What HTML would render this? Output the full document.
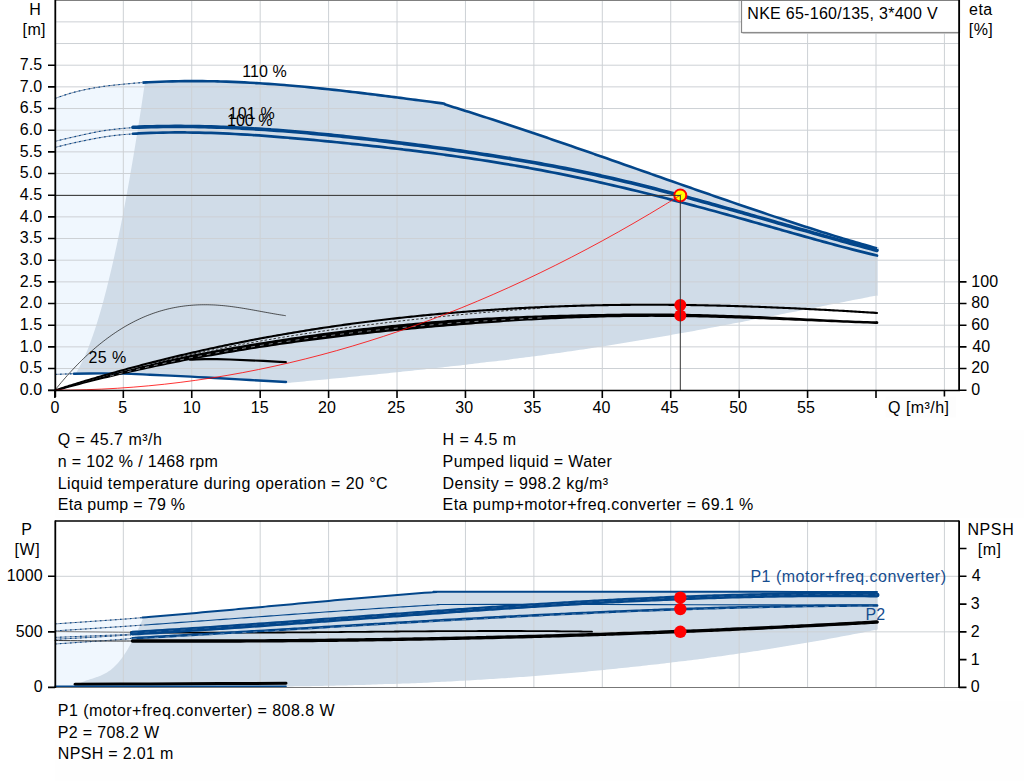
<!DOCTYPE html>
<html><head><meta charset="utf-8"><style>
html,body{margin:0;padding:0;background:#fff;width:1024px;height:781px;overflow:hidden;}
text{font-family:"Liberation Sans",sans-serif;}
</style></head><body>
<svg width="1024" height="781" viewBox="0 0 1024 781" style="position:absolute;left:0;top:0">
<rect x="0" y="0" width="1024" height="781" fill="#fff"/>
<rect x="55.5" y="430.5" width="968.5" height="87" fill="#fefefe"/>
<rect x="55.5" y="701" width="968.5" height="80" fill="#fefefe"/>
<path d="M55,98.4L55.00,98.40C57.50,97.57 64.73,94.92 70.00,93.40C75.27,91.88 80.77,90.50 86.60,89.30C92.43,88.10 98.90,87.05 105.00,86.20C111.10,85.35 116.95,84.82 123.20,84.20C129.45,83.58 139.28,82.78 142.50,82.50L150,82.2 L150,373.9 L55,374.4 Z" fill="#f0f7fe"/>
<path d="M144.96,82.40L144.96,82.40C145.55,82.38 146.91,82.35 148.50,82.28C150.09,82.20 152.50,82.07 154.50,81.97C156.50,81.88 158.50,81.79 160.50,81.72C162.50,81.64 164.50,81.57 166.50,81.51C168.50,81.44 170.50,81.39 172.50,81.34C174.50,81.29 176.50,81.25 178.50,81.21C180.50,81.18 182.50,81.15 184.50,81.13C186.50,81.11 188.50,81.10 190.50,81.09C192.50,81.09 194.50,81.09 196.50,81.09C198.50,81.10 200.50,81.11 202.50,81.13C204.50,81.15 206.50,81.18 208.50,81.21C210.50,81.24 212.50,81.28 214.50,81.32C216.50,81.37 218.50,81.42 220.50,81.47C222.50,81.53 224.50,81.59 226.50,81.66C228.50,81.73 230.50,81.80 232.50,81.88C234.50,81.96 236.50,82.04 238.50,82.13C240.50,82.22 242.50,82.32 244.50,82.42C246.50,82.52 248.50,82.63 250.50,82.74C252.50,82.85 254.50,82.96 256.50,83.08C258.50,83.21 260.50,83.33 262.50,83.46C264.50,83.59 266.50,83.73 268.50,83.87C270.50,84.01 272.50,84.15 274.50,84.30C276.50,84.45 278.50,84.60 280.50,84.76C282.50,84.91 284.50,85.08 286.50,85.24C288.50,85.41 290.50,85.58 292.50,85.75C294.50,85.92 296.50,86.10 298.50,86.28C300.50,86.46 302.50,86.65 304.50,86.83C306.50,87.02 308.50,87.21 310.50,87.41C312.50,87.60 314.50,87.80 316.50,88.00C318.50,88.20 320.50,88.41 322.50,88.62C324.50,88.83 326.50,89.04 328.50,89.25C330.50,89.46 332.50,89.68 334.50,89.90C336.50,90.12 338.50,90.34 340.50,90.57C342.50,90.79 344.50,91.02 346.50,91.25C348.50,91.48 350.50,91.71 352.50,91.94C354.50,92.18 356.50,92.41 358.50,92.65C360.50,92.89 362.50,93.13 364.50,93.37C366.50,93.62 368.50,93.86 370.50,94.11C372.50,94.35 374.50,94.60 376.50,94.85C378.50,95.10 380.50,95.35 382.50,95.60C384.50,95.85 386.50,96.11 388.50,96.36C390.50,96.62 392.50,96.87 394.50,97.13C396.50,97.39 398.50,97.64 400.50,97.90C402.50,98.16 404.50,98.42 406.50,98.68C408.50,98.94 410.50,99.20 412.50,99.47C414.50,99.73 416.50,99.99 418.50,100.25C420.50,100.52 422.50,100.78 424.50,101.04C426.50,101.31 428.50,101.57 430.50,101.83C432.50,102.10 434.50,102.36 436.50,102.62C438.50,102.89 441.15,103.24 442.50,103.41C443.85,103.59 444.25,103.64 444.60,103.69L444.60,104.36C445.60,104.67 448.60,105.59 450.60,106.21C452.60,106.83 454.60,107.46 456.60,108.08C458.60,108.71 460.60,109.34 462.60,109.97C464.60,110.60 466.60,111.23 468.60,111.86C470.60,112.50 472.60,113.13 474.60,113.77C476.60,114.41 478.60,115.05 480.60,115.70C482.60,116.34 484.60,116.99 486.60,117.63C488.60,118.28 490.60,118.93 492.60,119.58C494.60,120.23 496.60,120.89 498.60,121.54C500.60,122.20 502.60,122.86 504.60,123.52C506.60,124.18 508.60,124.84 510.60,125.50C512.60,126.16 514.60,126.83 516.60,127.49C518.60,128.16 520.60,128.83 522.60,129.50C524.60,130.17 526.60,130.84 528.60,131.51C530.60,132.18 532.60,132.86 534.60,133.53C536.60,134.21 538.60,134.89 540.60,135.56C542.60,136.24 544.60,136.92 546.60,137.60C548.60,138.28 550.60,138.97 552.60,139.65C554.60,140.33 556.60,141.02 558.60,141.70C560.60,142.39 562.60,143.08 564.60,143.77C566.60,144.45 568.60,145.14 570.60,145.83C572.60,146.52 574.60,147.21 576.60,147.91C578.60,148.60 580.60,149.29 582.60,149.99C584.60,150.68 586.60,151.37 588.60,152.07C590.60,152.76 592.60,153.46 594.60,154.16C596.60,154.85 598.60,155.55 600.60,156.25C602.60,156.95 604.60,157.65 606.60,158.35C608.60,159.04 610.60,159.74 612.60,160.44C614.60,161.14 616.60,161.85 618.60,162.55C620.60,163.25 622.60,163.95 624.60,164.65C626.60,165.35 628.60,166.05 630.60,166.76C632.60,167.46 634.60,168.16 636.60,168.86C638.60,169.57 640.60,170.27 642.60,170.97C644.60,171.67 646.60,172.38 648.60,173.08C650.60,173.78 652.60,174.49 654.60,175.19C656.60,175.89 658.60,176.59 660.60,177.30C662.60,178.00 664.60,178.70 666.60,179.40C668.60,180.11 670.60,180.81 672.60,181.51C674.60,182.21 676.60,182.91 678.60,183.61C680.60,184.31 682.60,185.01 684.60,185.71C686.60,186.41 688.60,187.11 690.60,187.81C692.60,188.51 694.60,189.21 696.60,189.91C698.60,190.61 700.60,191.30 702.60,192.00C704.60,192.70 706.60,193.39 708.60,194.09C710.60,194.78 712.60,195.48 714.60,196.17C716.60,196.86 718.60,197.55 720.60,198.25C722.60,198.94 724.60,199.63 726.60,200.32C728.60,201.01 730.60,201.70 732.60,202.38C734.60,203.07 736.60,203.76 738.60,204.44C740.60,205.13 742.60,205.81 744.60,206.49C746.60,207.18 748.60,207.86 750.60,208.54C752.60,209.22 754.60,209.89 756.60,210.57C758.60,211.25 760.60,211.92 762.60,212.59C764.60,213.27 766.60,213.94 768.60,214.61C770.60,215.28 772.60,215.95 774.60,216.61C776.60,217.28 778.60,217.94 780.60,218.60C782.60,219.26 784.60,219.92 786.60,220.58C788.60,221.24 790.60,221.89 792.60,222.55C794.60,223.20 796.60,223.85 798.60,224.50C800.60,225.15 802.60,225.79 804.60,226.44C806.60,227.08 808.60,227.72 810.60,228.36C812.60,229.00 814.60,229.63 816.60,230.26C818.60,230.90 820.60,231.53 822.60,232.15C824.60,232.78 826.60,233.40 828.60,234.03C830.60,234.65 832.60,235.26 834.60,235.88C836.60,236.50 838.60,237.11 840.60,237.72C842.60,238.32 844.60,238.93 846.60,239.53C848.60,240.13 850.60,240.73 852.60,241.33C854.60,241.92 856.60,242.52 858.60,243.11C860.60,243.69 862.60,244.28 864.60,244.86C866.60,245.44 868.60,246.02 870.60,246.59C872.60,247.17 875.53,248.00 876.60,248.30C877.67,248.61 876.93,248.40 877.00,248.42L877.7,248.42 L877.7,295.7 L877,295.7L877.00,295.47C876.50,295.57 875.50,295.77 874.00,296.06C872.50,296.36 870.00,296.85 868.00,297.24C866.00,297.64 864.00,298.03 862.00,298.43C860.00,298.82 858.00,299.21 856.00,299.61C854.00,300.00 852.00,300.40 850.00,300.79C848.00,301.19 846.00,301.58 844.00,301.98C842.00,302.37 840.00,302.77 838.00,303.16C836.00,303.56 834.00,303.96 832.00,304.35C830.00,304.75 828.00,305.14 826.00,305.54C824.00,305.93 822.00,306.33 820.00,306.72C818.00,307.12 816.00,307.51 814.00,307.90C812.00,308.30 810.00,308.69 808.00,309.09C806.00,309.48 804.00,309.87 802.00,310.27C800.00,310.66 798.00,311.05 796.00,311.45C794.00,311.84 792.00,312.23 790.00,312.62C788.00,313.02 786.00,313.41 784.00,313.80C782.00,314.19 780.00,314.58 778.00,314.97C776.00,315.36 774.00,315.75 772.00,316.14C770.00,316.53 768.00,316.91 766.00,317.30C764.00,317.69 762.00,318.08 760.00,318.46C758.00,318.85 756.00,319.23 754.00,319.62C752.00,320.00 750.00,320.39 748.00,320.77C746.00,321.15 744.00,321.54 742.00,321.92C740.00,322.30 738.00,322.68 736.00,323.06C734.00,323.44 732.00,323.82 730.00,324.19C728.00,324.57 726.00,324.95 724.00,325.32C722.00,325.70 720.00,326.08 718.00,326.45C716.00,326.82 714.00,327.19 712.00,327.57C710.00,327.94 708.00,328.31 706.00,328.68C704.00,329.05 702.00,329.41 700.00,329.78C698.00,330.15 696.00,330.51 694.00,330.88C692.00,331.24 690.00,331.60 688.00,331.96C686.00,332.32 684.00,332.68 682.00,333.04C680.00,333.40 678.00,333.76 676.00,334.11C674.00,334.47 672.00,334.82 670.00,335.18C668.00,335.53 666.00,335.88 664.00,336.23C662.00,336.58 660.00,336.92 658.00,337.27C656.00,337.62 654.00,337.96 652.00,338.30C650.00,338.65 648.00,338.99 646.00,339.33C644.00,339.67 642.00,340.00 640.00,340.34C638.00,340.68 636.00,341.01 634.00,341.34C632.00,341.67 630.00,342.00 628.00,342.33C626.00,342.66 624.00,342.99 622.00,343.31C620.00,343.63 618.00,343.96 616.00,344.28C614.00,344.60 612.00,344.92 610.00,345.23C608.00,345.55 606.00,345.86 604.00,346.17C602.00,346.49 600.00,346.80 598.00,347.10C596.00,347.41 594.00,347.72 592.00,348.02C590.00,348.32 588.00,348.62 586.00,348.92C584.00,349.22 582.00,349.52 580.00,349.82C578.00,350.11 576.00,350.40 574.00,350.70C572.00,350.99 570.00,351.28 568.00,351.56C566.00,351.85 564.00,352.14 562.00,352.42C560.00,352.70 558.00,352.98 556.00,353.26C554.00,353.54 552.00,353.82 550.00,354.10C548.00,354.37 546.00,354.65 544.00,354.92C542.00,355.19 540.00,355.46 538.00,355.73C536.00,356.00 534.00,356.27 532.00,356.53C530.00,356.80 528.00,357.06 526.00,357.32C524.00,357.58 522.00,357.84 520.00,358.10C518.00,358.36 516.00,358.62 514.00,358.87C512.00,359.13 510.00,359.38 508.00,359.64C506.00,359.89 504.00,360.14 502.00,360.39C500.00,360.64 498.00,360.88 496.00,361.13C494.00,361.38 492.00,361.62 490.00,361.86C488.00,362.11 486.00,362.35 484.00,362.59C482.00,362.83 480.00,363.07 478.00,363.31C476.00,363.54 474.00,363.78 472.00,364.01C470.00,364.25 468.00,364.48 466.00,364.71C464.00,364.95 462.00,365.18 460.00,365.41C458.00,365.64 456.00,365.86 454.00,366.09C452.00,366.32 450.00,366.54 448.00,366.77C446.00,366.99 444.00,367.22 442.00,367.44C440.00,367.66 438.00,367.88 436.00,368.10C434.00,368.32 432.00,368.54 430.00,368.76C428.00,368.98 426.00,369.20 424.00,369.41C422.00,369.63 420.00,369.84 418.00,370.06C416.00,370.27 414.00,370.48 412.00,370.70C410.00,370.91 408.00,371.12 406.00,371.33C404.00,371.54 402.00,371.75 400.00,371.96C398.00,372.16 396.00,372.37 394.00,372.58C392.00,372.78 390.00,372.99 388.00,373.19C386.00,373.40 384.00,373.60 382.00,373.81C380.00,374.01 378.00,374.21 376.00,374.41C374.00,374.62 372.00,374.82 370.00,375.02C368.00,375.22 366.00,375.42 364.00,375.62C362.00,375.82 360.00,376.01 358.00,376.21C356.00,376.41 354.00,376.61 352.00,376.80C350.00,377.00 348.00,377.20 346.00,377.39C344.00,377.59 342.00,377.78 340.00,377.98C338.00,378.17 336.00,378.37 334.00,378.56C332.00,378.75 330.00,378.95 328.00,379.14C326.00,379.33 324.00,379.52 322.00,379.71C320.00,379.91 318.00,380.10 316.00,380.29C314.00,380.48 312.00,380.67 310.00,380.86C308.00,381.05 306.00,381.24 304.00,381.43C302.00,381.62 300.00,381.81 298.00,382.00C296.00,382.19 294.00,382.38 292.00,382.57C290.00,382.76 287.00,383.04 286.00,383.13L286.00,382.00C280.00,381.67 261.83,380.67 250.00,380.00C238.17,379.33 224.83,378.57 215.00,378.00C205.17,377.43 201.83,377.15 191.00,376.60C180.17,376.05 161.33,375.20 150.00,374.70C138.67,374.20 131.33,373.82 123.00,373.60C114.67,373.38 108.17,373.38 100.00,373.40C91.83,373.42 78.33,373.65 74.00,373.70L75.75,373.70C76.86,371.68 80.38,365.61 82.37,361.56C84.36,357.52 86.04,353.47 87.68,349.42C89.33,345.38 90.80,341.33 92.24,337.29C93.68,333.24 95.01,329.20 96.30,325.15C97.60,321.10 98.82,317.06 100.00,313.01C101.19,308.97 102.32,304.92 103.42,300.88C104.52,296.83 105.58,292.78 106.61,288.74C107.64,284.69 108.64,280.65 109.61,276.60C110.59,272.55 111.54,268.51 112.46,264.46C113.39,260.42 114.29,256.37 115.18,252.32C116.06,248.28 116.93,244.23 117.77,240.19C118.62,236.14 119.45,232.10 120.27,228.05C121.09,224.00 121.88,219.96 122.67,215.91C123.46,211.87 124.23,207.82 124.99,203.77C125.75,199.73 126.50,195.68 127.24,191.64C127.97,187.59 128.70,183.55 129.42,179.50C130.13,175.45 130.84,171.41 131.53,167.36C132.23,163.32 132.91,159.27 133.59,155.22C134.27,151.18 134.94,147.13 135.60,143.09C136.26,139.04 136.91,135.00 137.56,130.95C138.20,126.90 138.84,122.86 139.47,118.81C140.10,114.77 140.72,110.72 141.34,106.67C141.96,102.63 142.57,98.58 143.17,94.54C143.77,90.49 144.66,84.42 144.96,82.40Z" fill="#d0dce8"/>
<path d="M123.32,0V390M191.75,0V390M260.18,0V390M328.60,0V390M397.02,0V390M465.45,0V390M533.88,0V390M602.30,0V390M670.73,0V390M739.15,0V390M807.58,0V390M876.00,0V390M944.42,0V390M55,368.53H959M55,346.87H959M55,325.20H959M55,303.53H959M55,281.87H959M55,260.20H959M55,238.53H959M55,216.87H959M55,195.20H959M55,173.53H959M55,151.87H959M55,130.20H959M55,108.54H959M55,86.87H959M55,65.20H959M55,43.54H959M55,21.87H959" stroke="#cdd1d5" stroke-width="1" fill="none"/>
<path d="M55.00,98.40C57.50,97.57 64.73,94.92 70.00,93.40C75.27,91.88 80.77,90.50 86.60,89.30C92.43,88.10 98.90,87.05 105.00,86.20C111.10,85.35 116.95,84.82 123.20,84.20C129.45,83.58 139.28,82.78 142.50,82.50" stroke="#7d8fa8" stroke-width="1.0" fill="none"/>
<path d="M55.00,98.40C57.50,97.57 64.73,94.92 70.00,93.40C75.27,91.88 80.77,90.50 86.60,89.30C92.43,88.10 98.90,87.05 105.00,86.20C111.10,85.35 116.95,84.82 123.20,84.20C129.45,83.58 139.28,82.78 142.50,82.50" stroke="#03468a" stroke-width="1.1" fill="none" stroke-dasharray="1.6 3.4"/>
<path d="M55.00,141.30C58.33,140.52 67.50,138.27 75.00,136.60C82.50,134.93 92.83,132.58 100.00,131.30C107.17,130.02 112.50,129.52 118.00,128.90C123.50,128.28 130.50,127.82 133.00,127.60" stroke="#7d8fa8" stroke-width="1.0" fill="none"/>
<path d="M55.00,141.30C58.33,140.52 67.50,138.27 75.00,136.60C82.50,134.93 92.83,132.58 100.00,131.30C107.17,130.02 112.50,129.52 118.00,128.90C123.50,128.28 130.50,127.82 133.00,127.60" stroke="#03468a" stroke-width="1.1" fill="none" stroke-dasharray="1.6 3.4"/>
<path d="M55.00,147.40C58.33,146.60 67.50,144.23 75.00,142.60C82.50,140.97 92.83,138.85 100.00,137.60C107.17,136.35 112.50,135.72 118.00,135.10C123.50,134.48 130.50,134.10 133.00,133.90" stroke="#7d8fa8" stroke-width="1.0" fill="none"/>
<path d="M55.00,147.40C58.33,146.60 67.50,144.23 75.00,142.60C82.50,140.97 92.83,138.85 100.00,137.60C107.17,136.35 112.50,135.72 118.00,135.10C123.50,134.48 130.50,134.10 133.00,133.90" stroke="#03468a" stroke-width="1.1" fill="none" stroke-dasharray="1.6 3.4"/>
<path d="M55.00,374.40L74.00,373.70" stroke="#7d8fa8" stroke-width="1.0" fill="none"/>
<path d="M55.00,374.40L74.00,373.70" stroke="#03468a" stroke-width="1.1" fill="none" stroke-dasharray="1.6 3.4"/>
<path d="M142.50,82.63C143.50,82.57 146.50,82.38 148.50,82.28C150.50,82.17 152.50,82.07 154.50,81.97C156.50,81.88 158.50,81.79 160.50,81.72C162.50,81.64 164.50,81.57 166.50,81.51C168.50,81.44 170.50,81.39 172.50,81.34C174.50,81.29 176.50,81.25 178.50,81.21C180.50,81.18 182.50,81.15 184.50,81.13C186.50,81.11 188.50,81.10 190.50,81.09C192.50,81.09 194.50,81.09 196.50,81.09C198.50,81.10 200.50,81.11 202.50,81.13C204.50,81.15 206.50,81.18 208.50,81.21C210.50,81.24 212.50,81.28 214.50,81.32C216.50,81.37 218.50,81.42 220.50,81.47C222.50,81.53 224.50,81.59 226.50,81.66C228.50,81.73 230.50,81.80 232.50,81.88C234.50,81.96 236.50,82.04 238.50,82.13C240.50,82.22 242.50,82.32 244.50,82.42C246.50,82.52 248.50,82.63 250.50,82.74C252.50,82.85 254.50,82.96 256.50,83.08C258.50,83.21 260.50,83.33 262.50,83.46C264.50,83.59 266.50,83.73 268.50,83.87C270.50,84.01 272.50,84.15 274.50,84.30C276.50,84.45 278.50,84.60 280.50,84.76C282.50,84.91 284.50,85.08 286.50,85.24C288.50,85.41 290.50,85.58 292.50,85.75C294.50,85.92 296.50,86.10 298.50,86.28C300.50,86.46 302.50,86.65 304.50,86.83C306.50,87.02 308.50,87.21 310.50,87.41C312.50,87.60 314.50,87.80 316.50,88.00C318.50,88.20 320.50,88.41 322.50,88.62C324.50,88.83 326.50,89.04 328.50,89.25C330.50,89.46 332.50,89.68 334.50,89.90C336.50,90.12 338.50,90.34 340.50,90.57C342.50,90.79 344.50,91.02 346.50,91.25C348.50,91.48 350.50,91.71 352.50,91.94C354.50,92.18 356.50,92.41 358.50,92.65C360.50,92.89 362.50,93.13 364.50,93.37C366.50,93.62 368.50,93.86 370.50,94.11C372.50,94.35 374.50,94.60 376.50,94.85C378.50,95.10 380.50,95.35 382.50,95.60C384.50,95.85 386.50,96.11 388.50,96.36C390.50,96.62 392.50,96.87 394.50,97.13C396.50,97.39 398.50,97.64 400.50,97.90C402.50,98.16 404.50,98.42 406.50,98.68C408.50,98.94 410.50,99.20 412.50,99.47C414.50,99.73 416.50,99.99 418.50,100.25C420.50,100.52 422.50,100.78 424.50,101.04C426.50,101.31 428.50,101.57 430.50,101.83C432.50,102.10 434.50,102.36 436.50,102.62C438.50,102.89 441.15,103.24 442.50,103.41C443.85,103.59 444.25,103.64 444.60,103.69L444.60,104.36C445.60,104.67 448.60,105.59 450.60,106.21C452.60,106.83 454.60,107.46 456.60,108.08C458.60,108.71 460.60,109.34 462.60,109.97C464.60,110.60 466.60,111.23 468.60,111.86C470.60,112.50 472.60,113.13 474.60,113.77C476.60,114.41 478.60,115.05 480.60,115.70C482.60,116.34 484.60,116.99 486.60,117.63C488.60,118.28 490.60,118.93 492.60,119.58C494.60,120.23 496.60,120.89 498.60,121.54C500.60,122.20 502.60,122.86 504.60,123.52C506.60,124.18 508.60,124.84 510.60,125.50C512.60,126.16 514.60,126.83 516.60,127.49C518.60,128.16 520.60,128.83 522.60,129.50C524.60,130.17 526.60,130.84 528.60,131.51C530.60,132.18 532.60,132.86 534.60,133.53C536.60,134.21 538.60,134.89 540.60,135.56C542.60,136.24 544.60,136.92 546.60,137.60C548.60,138.28 550.60,138.97 552.60,139.65C554.60,140.33 556.60,141.02 558.60,141.70C560.60,142.39 562.60,143.08 564.60,143.77C566.60,144.45 568.60,145.14 570.60,145.83C572.60,146.52 574.60,147.21 576.60,147.91C578.60,148.60 580.60,149.29 582.60,149.99C584.60,150.68 586.60,151.37 588.60,152.07C590.60,152.76 592.60,153.46 594.60,154.16C596.60,154.85 598.60,155.55 600.60,156.25C602.60,156.95 604.60,157.65 606.60,158.35C608.60,159.04 610.60,159.74 612.60,160.44C614.60,161.14 616.60,161.85 618.60,162.55C620.60,163.25 622.60,163.95 624.60,164.65C626.60,165.35 628.60,166.05 630.60,166.76C632.60,167.46 634.60,168.16 636.60,168.86C638.60,169.57 640.60,170.27 642.60,170.97C644.60,171.67 646.60,172.38 648.60,173.08C650.60,173.78 652.60,174.49 654.60,175.19C656.60,175.89 658.60,176.59 660.60,177.30C662.60,178.00 664.60,178.70 666.60,179.40C668.60,180.11 670.60,180.81 672.60,181.51C674.60,182.21 676.60,182.91 678.60,183.61C680.60,184.31 682.60,185.01 684.60,185.71C686.60,186.41 688.60,187.11 690.60,187.81C692.60,188.51 694.60,189.21 696.60,189.91C698.60,190.61 700.60,191.30 702.60,192.00C704.60,192.70 706.60,193.39 708.60,194.09C710.60,194.78 712.60,195.48 714.60,196.17C716.60,196.86 718.60,197.55 720.60,198.25C722.60,198.94 724.60,199.63 726.60,200.32C728.60,201.01 730.60,201.70 732.60,202.38C734.60,203.07 736.60,203.76 738.60,204.44C740.60,205.13 742.60,205.81 744.60,206.49C746.60,207.18 748.60,207.86 750.60,208.54C752.60,209.22 754.60,209.89 756.60,210.57C758.60,211.25 760.60,211.92 762.60,212.59C764.60,213.27 766.60,213.94 768.60,214.61C770.60,215.28 772.60,215.95 774.60,216.61C776.60,217.28 778.60,217.94 780.60,218.60C782.60,219.26 784.60,219.92 786.60,220.58C788.60,221.24 790.60,221.89 792.60,222.55C794.60,223.20 796.60,223.85 798.60,224.50C800.60,225.15 802.60,225.79 804.60,226.44C806.60,227.08 808.60,227.72 810.60,228.36C812.60,229.00 814.60,229.63 816.60,230.26C818.60,230.90 820.60,231.53 822.60,232.15C824.60,232.78 826.60,233.40 828.60,234.03C830.60,234.65 832.60,235.26 834.60,235.88C836.60,236.50 838.60,237.11 840.60,237.72C842.60,238.32 844.60,238.93 846.60,239.53C848.60,240.13 850.60,240.73 852.60,241.33C854.60,241.92 856.60,242.52 858.60,243.11C860.60,243.69 862.60,244.28 864.60,244.86C866.60,245.44 868.60,246.02 870.60,246.59C872.60,247.17 875.53,248.00 876.60,248.30C877.67,248.61 876.93,248.40 877.00,248.42" stroke="#03468a" stroke-width="2.6" fill="none" stroke-linejoin="round"/>
<path d="M133.00,133.77C134.00,133.71 137.00,133.54 139.00,133.44C141.00,133.34 143.00,133.25 145.00,133.17C147.00,133.08 149.00,133.00 151.00,132.94C153.00,132.87 155.00,132.81 157.00,132.75C159.00,132.70 161.00,132.65 163.00,132.61C165.00,132.57 167.00,132.54 169.00,132.52C171.00,132.49 173.00,132.48 175.00,132.47C177.00,132.46 179.00,132.45 181.00,132.46C183.00,132.46 185.00,132.47 187.00,132.48C189.00,132.50 191.00,132.52 193.00,132.55C195.00,132.58 197.00,132.61 199.00,132.66C201.00,132.70 203.00,132.74 205.00,132.80C207.00,132.85 209.00,132.91 211.00,132.97C213.00,133.03 215.00,133.10 217.00,133.18C219.00,133.25 221.00,133.33 223.00,133.42C225.00,133.50 227.00,133.59 229.00,133.69C231.00,133.78 233.00,133.88 235.00,133.99C237.00,134.09 239.00,134.20 241.00,134.32C243.00,134.43 245.00,134.55 247.00,134.67C249.00,134.79 251.00,134.92 253.00,135.05C255.00,135.18 257.00,135.31 259.00,135.45C261.00,135.59 263.00,135.73 265.00,135.88C267.00,136.02 269.00,136.17 271.00,136.33C273.00,136.48 275.00,136.63 277.00,136.79C279.00,136.95 281.00,137.11 283.00,137.28C285.00,137.44 287.00,137.61 289.00,137.78C291.00,137.95 293.00,138.13 295.00,138.30C297.00,138.48 299.00,138.66 301.00,138.84C303.00,139.02 305.00,139.20 307.00,139.39C309.00,139.57 311.00,139.76 313.00,139.95C315.00,140.13 317.00,140.32 319.00,140.52C321.00,140.71 323.00,140.90 325.00,141.10C327.00,141.29 329.00,141.49 331.00,141.69C333.00,141.88 335.00,142.08 337.00,142.28C339.00,142.48 341.00,142.68 343.00,142.89C345.00,143.09 347.00,143.29 349.00,143.50C351.00,143.71 353.00,143.91 355.00,144.12C357.00,144.33 359.00,144.54 361.00,144.75C363.00,144.96 365.00,145.18 367.00,145.39C369.00,145.61 371.00,145.83 373.00,146.04C375.00,146.26 377.00,146.48 379.00,146.71C381.00,146.93 383.00,147.15 385.00,147.38C387.00,147.61 389.00,147.83 391.00,148.06C393.00,148.29 395.00,148.53 397.00,148.76C399.00,148.99 401.00,149.23 403.00,149.47C405.00,149.71 407.00,149.95 409.00,150.19C411.00,150.43 413.00,150.68 415.00,150.93C417.00,151.17 419.00,151.42 421.00,151.67C423.00,151.93 425.00,152.18 427.00,152.44C429.00,152.69 431.00,152.95 433.00,153.21C435.00,153.47 437.00,153.74 439.00,154.01C441.00,154.27 443.00,154.54 445.00,154.81C447.00,155.08 449.00,155.36 451.00,155.64C453.00,155.91 455.00,156.19 457.00,156.48C459.00,156.76 461.00,157.04 463.00,157.33C465.00,157.62 467.00,157.91 469.00,158.21C471.00,158.50 473.00,158.80 475.00,159.10C477.00,159.40 479.00,159.70 481.00,160.01C483.00,160.31 485.00,160.62 487.00,160.93C489.00,161.25 491.00,161.56 493.00,161.88C495.00,162.20 497.00,162.52 499.00,162.85C501.00,163.17 503.00,163.50 505.00,163.83C507.00,164.16 509.00,164.50 511.00,164.84C513.00,165.17 515.00,165.52 517.00,165.86C519.00,166.21 521.00,166.56 523.00,166.91C525.00,167.26 527.00,167.62 529.00,167.98C531.00,168.34 533.00,168.70 535.00,169.07C537.00,169.44 539.00,169.81 541.00,170.18C543.00,170.56 545.00,170.94 547.00,171.32C549.00,171.70 551.00,172.09 553.00,172.48C555.00,172.87 557.00,173.26 559.00,173.66C561.00,174.06 563.00,174.46 565.00,174.87C567.00,175.27 569.00,175.68 571.00,176.10C573.00,176.51 575.00,176.93 577.00,177.35C579.00,177.77 581.00,178.20 583.00,178.63C585.00,179.06 587.00,179.49 589.00,179.93C591.00,180.36 593.00,180.80 595.00,181.25C597.00,181.69 599.00,182.14 601.00,182.59C603.00,183.04 605.00,183.49 607.00,183.95C609.00,184.40 611.00,184.86 613.00,185.33C615.00,185.79 617.00,186.26 619.00,186.73C621.00,187.20 623.00,187.67 625.00,188.15C627.00,188.62 629.00,189.10 631.00,189.59C633.00,190.07 635.00,190.55 637.00,191.04C639.00,191.53 641.00,192.02 643.00,192.51C645.00,193.01 647.00,193.50 649.00,194.00C651.00,194.50 653.00,195.00 655.00,195.51C657.00,196.01 659.00,196.52 661.00,197.03C663.00,197.54 665.00,198.05 667.00,198.56C669.00,199.08 671.00,199.59 673.00,200.11C675.00,200.63 677.00,201.15 679.00,201.68C681.00,202.20 683.00,202.73 685.00,203.25C687.00,203.78 689.00,204.31 691.00,204.84C693.00,205.38 695.00,205.91 697.00,206.45C699.00,206.98 701.00,207.52 703.00,208.06C705.00,208.60 707.00,209.14 709.00,209.69C711.00,210.23 713.00,210.77 715.00,211.32C717.00,211.87 719.00,212.42 721.00,212.97C723.00,213.52 725.00,214.07 727.00,214.62C729.00,215.18 731.00,215.73 733.00,216.29C735.00,216.84 737.00,217.40 739.00,217.96C741.00,218.52 743.00,219.08 745.00,219.64C747.00,220.20 749.00,220.76 751.00,221.33C753.00,221.89 755.00,222.46 757.00,223.02C759.00,223.59 761.00,224.15 763.00,224.72C765.00,225.29 767.00,225.86 769.00,226.42C771.00,226.99 773.00,227.56 775.00,228.13C777.00,228.69 779.00,229.26 781.00,229.83C783.00,230.40 785.00,230.96 787.00,231.53C789.00,232.10 791.00,232.66 793.00,233.23C795.00,233.79 797.00,234.35 799.00,234.92C801.00,235.48 803.00,236.04 805.00,236.60C807.00,237.16 809.00,237.72 811.00,238.27C813.00,238.83 815.00,239.38 817.00,239.94C819.00,240.49 821.00,241.04 823.00,241.59C825.00,242.13 827.00,242.68 829.00,243.22C831.00,243.76 833.00,244.30 835.00,244.84C837.00,245.38 839.00,245.91 841.00,246.44C843.00,246.97 845.00,247.50 847.00,248.02C849.00,248.54 851.00,249.06 853.00,249.58C855.00,250.10 857.00,250.61 859.00,251.12C861.00,251.62 863.00,252.13 865.00,252.63C867.00,253.12 869.00,253.62 871.00,254.11C873.00,254.60 876.00,255.32 877.00,255.56" stroke="#03468a" stroke-width="2.7" fill="none" stroke-linejoin="round" stroke-linecap="round" />
<path d="M133.00,127.32C134.00,127.29 137.00,127.16 139.00,127.09C141.00,127.02 143.00,126.95 145.00,126.89C147.00,126.83 149.00,126.77 151.00,126.72C153.00,126.68 155.00,126.63 157.00,126.60C159.00,126.56 161.00,126.53 163.00,126.50C165.00,126.48 167.00,126.45 169.00,126.44C171.00,126.43 173.00,126.42 175.00,126.41C177.00,126.41 179.00,126.41 181.00,126.42C183.00,126.42 185.00,126.44 187.00,126.45C189.00,126.47 191.00,126.49 193.00,126.52C195.00,126.55 197.00,126.58 199.00,126.62C201.00,126.66 203.00,126.70 205.00,126.75C207.00,126.79 209.00,126.85 211.00,126.90C213.00,126.96 215.00,127.02 217.00,127.09C219.00,127.15 221.00,127.23 223.00,127.30C225.00,127.38 227.00,127.46 229.00,127.54C231.00,127.63 233.00,127.72 235.00,127.81C237.00,127.90 239.00,128.00 241.00,128.10C243.00,128.20 245.00,128.31 247.00,128.42C249.00,128.53 251.00,128.64 253.00,128.76C255.00,128.88 257.00,129.00 259.00,129.13C261.00,129.25 263.00,129.38 265.00,129.52C267.00,129.65 269.00,129.79 271.00,129.93C273.00,130.07 275.00,130.21 277.00,130.36C279.00,130.51 281.00,130.66 283.00,130.82C285.00,130.97 287.00,131.13 289.00,131.29C291.00,131.45 293.00,131.62 295.00,131.79C297.00,131.96 299.00,132.13 301.00,132.30C303.00,132.48 305.00,132.65 307.00,132.83C309.00,133.01 311.00,133.20 313.00,133.39C315.00,133.57 317.00,133.76 319.00,133.95C321.00,134.15 323.00,134.34 325.00,134.54C327.00,134.74 329.00,134.94 331.00,135.14C333.00,135.34 335.00,135.55 337.00,135.75C339.00,135.96 341.00,136.17 343.00,136.38C345.00,136.60 347.00,136.81 349.00,137.03C351.00,137.25 353.00,137.47 355.00,137.69C357.00,137.91 359.00,138.13 361.00,138.36C363.00,138.58 365.00,138.81 367.00,139.04C369.00,139.27 371.00,139.50 373.00,139.73C375.00,139.97 377.00,140.20 379.00,140.44C381.00,140.67 383.00,140.91 385.00,141.15C387.00,141.39 389.00,141.63 391.00,141.88C393.00,142.12 395.00,142.36 397.00,142.61C399.00,142.85 401.00,143.10 403.00,143.35C405.00,143.60 407.00,143.85 409.00,144.10C411.00,144.35 413.00,144.60 415.00,144.85C417.00,145.11 419.00,145.36 421.00,145.62C423.00,145.88 425.00,146.14 427.00,146.40C429.00,146.66 431.00,146.92 433.00,147.19C435.00,147.45 437.00,147.72 439.00,147.99C441.00,148.26 443.00,148.53 445.00,148.80C447.00,149.07 449.00,149.35 451.00,149.63C453.00,149.90 455.00,150.18 457.00,150.46C459.00,150.74 461.00,151.03 463.00,151.31C465.00,151.60 467.00,151.89 469.00,152.18C471.00,152.47 473.00,152.76 475.00,153.06C477.00,153.35 479.00,153.65 481.00,153.95C483.00,154.25 485.00,154.56 487.00,154.86C489.00,155.17 491.00,155.48 493.00,155.79C495.00,156.10 497.00,156.42 499.00,156.74C501.00,157.05 503.00,157.37 505.00,157.70C507.00,158.02 509.00,158.35 511.00,158.68C513.00,159.01 515.00,159.34 517.00,159.67C519.00,160.01 521.00,160.35 523.00,160.69C525.00,161.03 527.00,161.38 529.00,161.73C531.00,162.08 533.00,162.43 535.00,162.78C537.00,163.14 539.00,163.50 541.00,163.86C543.00,164.23 545.00,164.59 547.00,164.96C549.00,165.33 551.00,165.70 553.00,166.08C555.00,166.46 557.00,166.84 559.00,167.23C561.00,167.61 563.00,168.00 565.00,168.39C567.00,168.78 569.00,169.18 571.00,169.58C573.00,169.98 575.00,170.39 577.00,170.80C579.00,171.21 581.00,171.62 583.00,172.04C585.00,172.45 587.00,172.87 589.00,173.30C591.00,173.72 593.00,174.15 595.00,174.59C597.00,175.02 599.00,175.46 601.00,175.90C603.00,176.35 605.00,176.80 607.00,177.25C609.00,177.70 611.00,178.16 613.00,178.62C615.00,179.08 617.00,179.54 619.00,180.01C621.00,180.48 623.00,180.95 625.00,181.43C627.00,181.91 629.00,182.39 631.00,182.87C633.00,183.36 635.00,183.85 637.00,184.34C639.00,184.83 641.00,185.33 643.00,185.82C645.00,186.32 647.00,186.83 649.00,187.33C651.00,187.84 653.00,188.35 655.00,188.86C657.00,189.37 659.00,189.88 661.00,190.40C663.00,190.92 665.00,191.44 667.00,191.97C669.00,192.49 671.00,193.02 673.00,193.55C675.00,194.07 677.00,194.61 679.00,195.14C681.00,195.67 683.00,196.21 685.00,196.75C687.00,197.29 689.00,197.83 691.00,198.37C693.00,198.92 695.00,199.46 697.00,200.01C699.00,200.56 701.00,201.11 703.00,201.66C705.00,202.21 707.00,202.77 709.00,203.32C711.00,203.88 713.00,204.43 715.00,204.99C717.00,205.55 719.00,206.11 721.00,206.67C723.00,207.23 725.00,207.79 727.00,208.36C729.00,208.92 731.00,209.49 733.00,210.05C735.00,210.62 737.00,211.19 739.00,211.75C741.00,212.32 743.00,212.89 745.00,213.46C747.00,214.03 749.00,214.60 751.00,215.17C753.00,215.74 755.00,216.31 757.00,216.88C759.00,217.46 761.00,218.03 763.00,218.60C765.00,219.17 767.00,219.74 769.00,220.32C771.00,220.89 773.00,221.46 775.00,222.04C777.00,222.61 779.00,223.18 781.00,223.75C783.00,224.33 785.00,224.90 787.00,225.47C789.00,226.04 791.00,226.61 793.00,227.18C795.00,227.76 797.00,228.33 799.00,228.90C801.00,229.46 803.00,230.03 805.00,230.60C807.00,231.17 809.00,231.74 811.00,232.30C813.00,232.87 815.00,233.43 817.00,234.00C819.00,234.56 821.00,235.12 823.00,235.69C825.00,236.25 827.00,236.81 829.00,237.37C831.00,237.92 833.00,238.48 835.00,239.04C837.00,239.59 839.00,240.15 841.00,240.70C843.00,241.25 845.00,241.80 847.00,242.35C849.00,242.90 851.00,243.44 853.00,243.99C855.00,244.53 857.00,245.07 859.00,245.61C861.00,246.15 863.00,246.69 865.00,247.22C867.00,247.76 869.00,248.29 871.00,248.82C873.00,249.35 876.00,250.14 877.00,250.40" stroke="#03468a" stroke-width="3.6" fill="none" stroke-linejoin="round" stroke-linecap="round" />
<path d="M74.00,373.70C78.33,373.65 91.83,373.42 100.00,373.40C108.17,373.38 114.67,373.38 123.00,373.60C131.33,373.82 138.67,374.20 150.00,374.70C161.33,375.20 180.17,376.05 191.00,376.60C201.83,377.15 205.17,377.43 215.00,378.00C224.83,378.57 238.17,379.33 250.00,380.00C261.83,380.67 280.00,381.67 286.00,382.00" stroke="#03468a" stroke-width="2.4" fill="none" stroke-linejoin="round" stroke-linecap="round" />
<path d="M55.20,389.86C55.53,389.44 56.53,388.20 57.20,387.38C57.87,386.57 58.53,385.76 59.20,384.95C59.87,384.15 60.53,383.35 61.20,382.56C61.87,381.77 62.53,380.99 63.20,380.21C63.87,379.44 64.53,378.67 65.20,377.90C65.87,377.14 66.53,376.39 67.20,375.64C67.87,374.89 68.53,374.14 69.20,373.41C69.87,372.67 70.53,371.94 71.20,371.22C71.87,370.49 72.53,369.78 73.20,369.07C73.87,368.36 74.53,367.66 75.20,366.96C75.87,366.26 76.53,365.57 77.20,364.89C77.87,364.20 78.53,363.53 79.20,362.86C79.87,362.18 80.53,361.52 81.20,360.86C81.87,360.20 82.53,359.55 83.20,358.91C83.87,358.26 84.53,357.62 85.20,356.99C85.87,356.36 86.53,355.73 87.20,355.11C87.87,354.49 88.53,353.88 89.20,353.27C89.87,352.67 90.53,352.07 91.20,351.47C91.87,350.88 92.53,350.29 93.20,349.71C93.87,349.13 94.53,348.55 95.20,347.98C95.87,347.41 96.53,346.85 97.20,346.29C97.87,345.74 98.53,345.19 99.20,344.64C99.87,344.10 100.53,343.56 101.20,343.03C101.87,342.49 102.53,341.97 103.20,341.45C103.87,340.93 104.53,340.41 105.20,339.91C105.87,339.40 106.53,338.90 107.20,338.40C107.87,337.90 108.53,337.41 109.20,336.93C109.87,336.45 110.53,335.97 111.20,335.50C111.87,335.03 112.53,334.56 113.20,334.10C113.87,333.64 114.53,333.19 115.20,332.74C115.87,332.29 116.53,331.85 117.20,331.41C117.87,330.97 118.53,330.54 119.20,330.12C119.87,329.69 120.53,329.28 121.20,328.86C121.87,328.45 122.53,328.04 123.20,327.64C123.87,327.24 124.53,326.84 125.20,326.45C125.87,326.06 126.53,325.68 127.20,325.30C127.87,324.92 128.53,324.55 129.20,324.18C129.87,323.81 130.53,323.45 131.20,323.10C131.87,322.74 132.53,322.39 133.20,322.05C133.87,321.70 134.53,321.36 135.20,321.03C135.87,320.70 136.53,320.37 137.20,320.05C137.87,319.72 138.53,319.41 139.20,319.10C139.87,318.78 140.53,318.48 141.20,318.18C141.87,317.88 142.53,317.58 143.20,317.29C143.87,317.00 144.53,316.72 145.20,316.44C145.87,316.16 146.53,315.89 147.20,315.62C147.87,315.36 148.53,315.09 149.20,314.84C149.87,314.58 150.53,314.33 151.20,314.08C151.87,313.84 152.53,313.59 153.20,313.36C153.87,313.12 154.53,312.89 155.20,312.67C155.87,312.44 156.53,312.22 157.20,312.01C157.87,311.79 158.53,311.58 159.20,311.38C159.87,311.18 160.53,310.98 161.20,310.78C161.87,310.59 162.53,310.40 163.20,310.22C163.87,310.03 164.53,309.85 165.20,309.68C165.87,309.51 166.53,309.34 167.20,309.17C167.87,309.01 168.53,308.85 169.20,308.70C169.87,308.54 170.53,308.39 171.20,308.25C171.87,308.10 172.53,307.97 173.20,307.83C173.87,307.70 174.53,307.57 175.20,307.44C175.87,307.32 176.53,307.19 177.20,307.08C177.87,306.96 178.53,306.85 179.20,306.74C179.87,306.64 180.53,306.53 181.20,306.44C181.87,306.34 182.53,306.25 183.20,306.16C183.87,306.07 184.53,305.98 185.20,305.90C185.87,305.82 186.53,305.75 187.20,305.68C187.87,305.60 188.53,305.54 189.20,305.47C189.87,305.41 190.53,305.35 191.20,305.30C191.87,305.24 192.53,305.19 193.20,305.15C193.87,305.10 194.53,305.06 195.20,305.02C195.87,304.98 196.53,304.95 197.20,304.92C197.87,304.89 198.53,304.86 199.20,304.84C199.87,304.82 200.53,304.80 201.20,304.79C201.87,304.77 202.53,304.76 203.20,304.76C203.87,304.75 204.53,304.75 205.20,304.75C205.87,304.75 206.53,304.75 207.20,304.76C207.87,304.77 208.53,304.78 209.20,304.80C209.87,304.81 210.53,304.83 211.20,304.86C211.87,304.88 212.53,304.90 213.20,304.93C213.87,304.96 214.53,305.00 215.20,305.03C215.87,305.07 216.53,305.11 217.20,305.16C217.87,305.20 218.53,305.25 219.20,305.30C219.87,305.35 220.53,305.40 221.20,305.46C221.87,305.51 222.53,305.57 223.20,305.64C223.87,305.70 224.53,305.77 225.20,305.84C225.87,305.90 226.53,305.98 227.20,306.05C227.87,306.13 228.53,306.20 229.20,306.28C229.87,306.37 230.53,306.45 231.20,306.53C231.87,306.62 232.53,306.71 233.20,306.80C233.87,306.89 234.53,306.98 235.20,307.08C235.87,307.17 236.53,307.27 237.20,307.37C237.87,307.46 238.53,307.57 239.20,307.67C239.87,307.77 240.53,307.88 241.20,307.98C241.87,308.09 242.53,308.20 243.20,308.30C243.87,308.41 244.53,308.52 245.20,308.64C245.87,308.75 246.53,308.86 247.20,308.98C247.87,309.09 248.53,309.21 249.20,309.32C249.87,309.44 250.53,309.56 251.20,309.68C251.87,309.79 252.53,309.91 253.20,310.03C253.87,310.15 254.53,310.27 255.20,310.39C255.87,310.52 256.53,310.64 257.20,310.76C257.87,310.88 258.53,311.00 259.20,311.12C259.87,311.25 260.53,311.37 261.20,311.49C261.87,311.61 262.53,311.74 263.20,311.86C263.87,311.98 264.53,312.10 265.20,312.23C265.87,312.35 266.53,312.47 267.20,312.59C267.87,312.71 268.53,312.83 269.20,312.95C269.87,313.07 270.53,313.19 271.20,313.31C271.87,313.43 272.53,313.54 273.20,313.66C273.87,313.78 274.53,313.89 275.20,314.01C275.87,314.12 276.53,314.24 277.20,314.35C277.87,314.46 278.53,314.57 279.20,314.68C279.87,314.79 280.53,314.90 281.20,315.00C281.87,315.11 282.53,315.21 283.20,315.31C283.87,315.42 284.82,315.56 285.20,315.62C285.58,315.67 285.45,315.65 285.50,315.66" stroke="#2a2a2a" stroke-width="0.8" fill="none" stroke-linejoin="round" stroke-linecap="round" />
<path d="M55.50,390.19 L59.50,389.02 L63.50,387.86 L67.50,386.70 L71.50,385.54 L75.50,384.38 L79.50,383.22 L83.50,382.07 L87.50,380.93 L91.50,379.79 L95.50,378.66 L99.50,377.53 L103.50,376.42 L107.50,375.32 L111.50,374.22 L115.50,373.14 L119.50,372.07 L123.50,371.01 L127.50,369.96 L131.50,368.92 L135.50,367.89 L139.50,366.87 L143.50,365.87 L147.50,364.88 L151.50,363.90 L155.50,362.94 L159.50,361.98 L163.50,361.04 L167.50,360.12 L171.50,359.20 L175.50,358.31 L179.50,357.42 L183.50,356.55 L187.50,355.70 L191.50,354.86 L195.50,354.03 L199.50,353.23 L203.50,352.43 L207.50,351.65 L211.50,350.89 L215.50,350.14 L219.50,349.40 L223.50,348.68 L227.50,347.96 L231.50,347.26 L235.50,346.56 L239.50,345.88 L243.50,345.20 L247.50,344.53 L251.50,343.86 L255.50,343.21 L259.50,342.55 L263.50,341.91 L267.50,341.27 L271.50,340.64 L275.50,340.01 L279.50,339.39 L283.50,338.78 L287.50,338.17 L291.50,337.57 L295.50,336.98 L299.50,336.39 L303.50,335.82 L307.50,335.25 L311.50,334.68 L315.50,334.13 L319.50,333.58 L323.50,333.04 L327.50,332.51 L331.50,331.99 L335.50,331.47 L339.50,330.97 L343.50,330.47 L347.50,329.98 L351.50,329.50 L355.50,329.03 L359.50,328.56 L363.50,328.11 L367.50,327.66 L371.50,327.21 L375.50,326.78 L379.50,326.35 L383.50,325.93 L387.50,325.51 L391.50,325.10 L395.50,324.70 L399.50,324.30 L403.50,323.91 L407.50,323.53 L411.50,323.15 L415.50,322.78 L419.50,322.41 L423.50,322.06 L427.50,321.71 L431.50,321.37 L435.50,321.04 L439.50,320.72 L443.50,320.41 L447.50,320.11 L451.50,319.82 L455.50,319.54 L459.50,319.27 L463.50,319.00 L467.50,318.75 L471.50,318.50 L475.50,318.27 L479.50,318.04 L483.50,317.81 L487.50,317.60 L491.50,317.39 L495.50,317.19 L499.50,317.00 L503.50,316.81 L507.50,316.64 L511.50,316.46 L515.50,316.30 L519.50,316.14 L523.50,315.98 L527.50,315.84 L531.50,315.69 L535.50,315.56 L539.50,315.43 L543.50,315.30 L547.50,315.18 L551.50,315.06 L555.50,314.95 L559.50,314.84 L563.50,314.74 L567.50,314.63 L571.50,314.54 L575.50,314.44 L579.50,314.35 L583.50,314.27 L587.50,314.18 L591.50,314.10 L595.50,314.03 L599.50,313.96 L603.50,313.89 L607.50,313.83 L611.50,313.77 L615.50,313.71 L619.50,313.66 L623.50,313.62 L627.50,313.58 L631.50,313.55 L635.50,313.53 L639.50,313.51 L643.50,313.50 L647.50,313.49 L651.50,313.50 L655.50,313.50 L659.50,313.52 L663.50,313.55 L667.50,313.58 L671.50,313.62 L675.50,313.67 L679.50,313.72 L683.50,313.79 L687.50,313.86 L691.50,313.93 L695.50,314.01 L699.50,314.10 L703.50,314.20 L707.50,314.30 L711.50,314.41 L715.50,314.52 L719.50,314.64 L723.50,314.77 L727.50,314.90 L731.50,315.03 L735.50,315.17 L739.50,315.32 L743.50,315.47 L747.50,315.62 L751.50,315.78 L755.50,315.95 L759.50,316.12 L763.50,316.29 L767.50,316.46 L771.50,316.64 L775.50,316.82 L779.50,317.01 L783.50,317.20 L787.50,317.39 L791.50,317.58 L795.50,317.78 L799.50,317.98 L803.50,318.18 L807.50,318.38 L811.50,318.59 L815.50,318.79 L819.50,319.00 L823.50,319.20 L827.50,319.40 L831.50,319.59 L835.50,319.78 L839.50,319.97 L843.50,320.15 L847.50,320.32 L851.50,320.49 L855.50,320.65 L859.50,320.80 L863.50,320.94 L867.50,321.07 L871.50,321.19 L875.50,321.29 L877.00,321.33 L877.00,323.96 L875.50,323.91 L871.50,323.76 L867.50,323.61 L863.50,323.46 L859.50,323.31 L855.50,323.15 L851.50,322.99 L847.50,322.83 L843.50,322.67 L839.50,322.50 L835.50,322.34 L831.50,322.17 L827.50,322.01 L823.50,321.84 L819.50,321.67 L815.50,321.50 L811.50,321.33 L807.50,321.16 L803.50,320.99 L799.50,320.82 L795.50,320.66 L791.50,320.49 L787.50,320.33 L783.50,320.16 L779.50,320.00 L775.50,319.84 L771.50,319.68 L767.50,319.53 L763.50,319.37 L759.50,319.22 L755.50,319.07 L751.50,318.93 L747.50,318.78 L743.50,318.65 L739.50,318.51 L735.50,318.38 L731.50,318.25 L727.50,318.13 L723.50,318.01 L719.50,317.90 L715.50,317.79 L711.50,317.68 L707.50,317.58 L703.50,317.49 L699.50,317.40 L695.50,317.32 L691.50,317.25 L687.50,317.18 L683.50,317.12 L679.50,317.06 L675.50,317.01 L671.50,316.97 L667.50,316.93 L663.50,316.91 L659.50,316.89 L655.50,316.88 L651.50,316.87 L647.50,316.88 L643.50,316.89 L639.50,316.91 L635.50,316.94 L631.50,316.97 L627.50,317.02 L623.50,317.07 L619.50,317.13 L615.50,317.20 L611.50,317.27 L607.50,317.36 L603.50,317.45 L599.50,317.55 L595.50,317.65 L591.50,317.77 L587.50,317.89 L583.50,318.02 L579.50,318.16 L575.50,318.31 L571.50,318.46 L567.50,318.62 L563.50,318.79 L559.50,318.96 L555.50,319.15 L551.50,319.34 L547.50,319.53 L543.50,319.74 L539.50,319.95 L535.50,320.16 L531.50,320.39 L527.50,320.62 L523.50,320.85 L519.50,321.09 L515.50,321.34 L511.50,321.60 L507.50,321.85 L503.50,322.12 L499.50,322.39 L495.50,322.66 L491.50,322.94 L487.50,323.23 L483.50,323.52 L479.50,323.81 L475.50,324.11 L471.50,324.42 L467.50,324.73 L463.50,325.04 L459.50,325.36 L455.50,325.68 L451.50,326.00 L447.50,326.33 L443.50,326.67 L439.50,327.01 L435.50,327.35 L431.50,327.70 L427.50,328.05 L423.50,328.41 L419.50,328.77 L415.50,329.14 L411.50,329.51 L407.50,329.89 L403.50,330.28 L399.50,330.66 L395.50,331.06 L391.50,331.46 L387.50,331.86 L383.50,332.27 L379.50,332.69 L375.50,333.11 L371.50,333.54 L367.50,333.97 L363.50,334.41 L359.50,334.86 L355.50,335.31 L351.50,335.76 L347.50,336.23 L343.50,336.70 L339.50,337.17 L335.50,337.65 L331.50,338.14 L327.50,338.64 L323.50,339.14 L319.50,339.65 L315.50,340.16 L311.50,340.68 L307.50,341.21 L303.50,341.75 L299.50,342.29 L295.50,342.84 L291.50,343.40 L287.50,343.96 L283.50,344.53 L279.50,345.11 L275.50,345.70 L271.50,346.29 L267.50,346.89 L263.50,347.50 L259.50,348.12 L255.50,348.74 L251.50,349.37 L247.50,350.01 L243.50,350.66 L239.50,351.31 L235.50,351.98 L231.50,352.65 L227.50,353.33 L223.50,354.02 L219.50,354.71 L215.50,355.42 L211.50,356.13 L207.50,356.85 L203.50,357.58 L199.50,358.32 L195.50,359.07 L191.50,359.83 L187.50,360.59 L183.50,361.37 L179.50,362.15 L175.50,362.95 L171.50,363.75 L167.50,364.56 L163.50,365.38 L159.50,366.21 L155.50,367.05 L151.50,367.90 L147.50,368.76 L143.50,369.63 L139.50,370.50 L135.50,371.39 L131.50,372.29 L127.50,373.20 L123.50,374.12 L119.50,375.04 L115.50,375.98 L111.50,376.93 L107.50,377.89 L103.50,378.86 L99.50,379.84 L95.50,380.83 L91.50,381.83 L87.50,382.84 L83.50,383.86 L79.50,384.89 L75.50,385.93 L71.50,386.99 L67.50,388.05 L63.50,389.13 L59.50,390.21 L55.50,391.31Z" fill="#000"/>
<circle cx="877" cy="322.65" r="1.32" fill="#000"/>
<path d="M150.00,363.81C150.50,363.69 152.00,363.33 153.00,363.09C154.00,362.86 155.00,362.62 156.00,362.38C157.00,362.14 158.00,361.91 159.00,361.67C160.00,361.44 161.00,361.21 162.00,360.97C163.00,360.74 164.00,360.51 165.00,360.28C166.00,360.05 167.00,359.82 168.00,359.59C169.00,359.36 170.00,359.13 171.00,358.91C172.00,358.68 173.00,358.45 174.00,358.23C175.00,358.00 176.00,357.78 177.00,357.56C178.00,357.33 179.00,357.11 180.00,356.89C181.00,356.67 182.00,356.45 183.00,356.23C184.00,356.01 185.00,355.79 186.00,355.58C187.00,355.36 188.00,355.14 189.00,354.93C190.00,354.71 191.00,354.50 192.00,354.28C193.00,354.07 194.00,353.86 195.00,353.65C196.00,353.43 197.00,353.22 198.00,353.01C199.00,352.80 200.00,352.59 201.00,352.39C202.00,352.18 203.00,351.97 204.00,351.76C205.00,351.56 206.00,351.35 207.00,351.15C208.00,350.94 209.00,350.74 210.00,350.54C211.00,350.33 212.00,350.13 213.00,349.93C214.00,349.73 215.00,349.53 216.00,349.33C217.00,349.13 218.00,348.93 219.00,348.74C220.00,348.54 221.00,348.34 222.00,348.15C223.00,347.95 224.00,347.76 225.00,347.56C226.00,347.37 227.00,347.17 228.00,346.98C229.00,346.79 230.00,346.60 231.00,346.41C232.00,346.22 233.00,346.03 234.00,345.84C235.00,345.65 236.00,345.46 237.00,345.27C238.00,345.09 239.00,344.90 240.00,344.71C241.00,344.53 242.00,344.34 243.00,344.16C244.00,343.97 245.00,343.79 246.00,343.61C247.00,343.43 248.00,343.24 249.00,343.06C250.00,342.88 251.00,342.70 252.00,342.52C253.00,342.34 254.00,342.17 255.00,341.99C256.00,341.81 257.00,341.63 258.00,341.46C259.00,341.28 260.00,341.11 261.00,340.93C262.00,340.76 263.00,340.58 264.00,340.41C265.00,340.24 266.00,340.07 267.00,339.89C268.00,339.72 269.00,339.55 270.00,339.38C271.00,339.21 272.00,339.04 273.00,338.87C274.00,338.71 275.00,338.54 276.00,338.37C277.00,338.21 278.00,338.04 279.00,337.87C280.00,337.71 281.00,337.54 282.00,337.38C283.00,337.22 284.00,337.05 285.00,336.89C286.00,336.73 287.00,336.57 288.00,336.40C289.00,336.24 290.00,336.08 291.00,335.92C292.00,335.76 293.00,335.61 294.00,335.45C295.00,335.29 296.00,335.13 297.00,334.98C298.00,334.82 299.00,334.66 300.00,334.51C301.00,334.35 302.00,334.20 303.00,334.04C304.00,333.89 305.00,333.74 306.00,333.58C307.00,333.43 308.00,333.28 309.00,333.13C310.00,332.98 311.00,332.83 312.00,332.68C313.00,332.53 314.00,332.38 315.00,332.23C316.00,332.08 317.00,331.93 318.00,331.78C319.00,331.64 320.00,331.49 321.00,331.35C322.00,331.20 323.00,331.05 324.00,330.91C325.00,330.77 326.00,330.62 327.00,330.48C328.00,330.33 329.00,330.19 330.00,330.05C331.00,329.91 332.00,329.77 333.00,329.63C334.00,329.48 335.00,329.34 336.00,329.21C337.00,329.07 338.00,328.93 339.00,328.79C340.00,328.65 341.00,328.51 342.00,328.38C343.00,328.24 344.00,328.10 345.00,327.97C346.00,327.83 347.00,327.70 348.00,327.56C349.00,327.43 350.00,327.29 351.00,327.16C352.00,327.03 353.00,326.89 354.00,326.76C355.00,326.63 356.00,326.50 357.00,326.37C358.00,326.23 359.00,326.10 360.00,325.97C361.00,325.84 362.00,325.71 363.00,325.59C364.00,325.46 365.00,325.33 366.00,325.20C367.00,325.07 368.00,324.95 369.00,324.82C370.00,324.69 371.00,324.57 372.00,324.44C373.00,324.32 374.00,324.19 375.00,324.07C376.00,323.94 377.00,323.82 378.00,323.70C379.00,323.57 380.00,323.45 381.00,323.33C382.00,323.20 383.00,323.08 384.00,322.96C385.00,322.84 386.00,322.72 387.00,322.60C388.00,322.48 389.00,322.36 390.00,322.24C391.00,322.12 392.00,322.00 393.00,321.88C394.00,321.77 395.00,321.65 396.00,321.53C397.00,321.41 398.00,321.30 399.00,321.18C400.00,321.07 401.00,320.95 402.00,320.84C403.00,320.72 404.00,320.61 405.00,320.49C406.00,320.38 407.00,320.26 408.00,320.15C409.00,320.04 410.00,319.92 411.00,319.81C412.00,319.70 413.00,319.59 414.00,319.48C415.00,319.37 416.00,319.26 417.00,319.15C418.00,319.04 419.00,318.93 420.00,318.82C421.00,318.71 422.00,318.60 423.00,318.49C424.00,318.38 425.00,318.27 426.00,318.17C427.00,318.06 428.00,317.95 429.00,317.85C430.00,317.74 431.00,317.64 432.00,317.53C433.00,317.43 434.00,317.32 435.00,317.22C436.00,317.11 437.00,317.01 438.00,316.91C439.00,316.80 440.00,316.70 441.00,316.60C442.00,316.50 443.00,316.40 444.00,316.29C445.00,316.19 446.00,316.09 447.00,315.99C448.00,315.89 449.00,315.79 450.00,315.70C451.00,315.60 452.00,315.50 453.00,315.40C454.00,315.30 455.00,315.21 456.00,315.11C457.00,315.01 458.00,314.92 459.00,314.82C460.00,314.72 461.00,314.63 462.00,314.53C463.00,314.44 464.00,314.35 465.00,314.25C466.00,314.16 467.00,314.07 468.00,313.97C469.00,313.88 470.00,313.79 471.00,313.70C472.00,313.61 473.00,313.52 474.00,313.43C475.00,313.34 476.00,313.25 477.00,313.16C478.00,313.07 479.00,312.98 480.00,312.89C481.00,312.80 482.00,312.71 483.00,312.63C484.00,312.54 485.00,312.45 486.00,312.37C487.00,312.28 488.00,312.20 489.00,312.11C490.00,312.03 491.00,311.94 492.00,311.86C493.00,311.78 494.00,311.69 495.00,311.61C496.00,311.53 497.00,311.45 498.00,311.37C499.00,311.28 500.00,311.20 501.00,311.12C502.00,311.04 503.00,310.96 504.00,310.88C505.00,310.80 506.00,310.73 507.00,310.65C508.00,310.57 509.00,310.49 510.00,310.42C511.00,310.34 512.00,310.26 513.00,310.19C514.00,310.11 515.00,310.04 516.00,309.96C517.00,309.89 518.00,309.81 519.00,309.74C520.00,309.67 521.00,309.59 522.00,309.52C523.00,309.45 524.00,309.38 525.00,309.31C526.00,309.24 527.00,309.17 528.00,309.10C529.00,309.03 530.00,308.96 531.00,308.89C532.00,308.82 533.00,308.75 534.00,308.68C535.00,308.62 536.00,308.55 537.00,308.48C538.00,308.42 539.50,308.32 540.00,308.29" stroke="#333" stroke-width="1.0" fill="none" stroke-dasharray="2.5 2"/>
<path d="M55.50,390.18C56.17,389.97 58.17,389.33 59.50,388.90C60.83,388.48 62.17,388.05 63.50,387.63C64.83,387.21 66.17,386.79 67.50,386.38C68.83,385.96 70.17,385.54 71.50,385.13C72.83,384.72 74.17,384.31 75.50,383.90C76.83,383.49 78.17,383.08 79.50,382.67C80.83,382.27 82.17,381.86 83.50,381.46C84.83,381.06 86.17,380.66 87.50,380.26C88.83,379.86 90.17,379.47 91.50,379.07C92.83,378.68 94.17,378.28 95.50,377.89C96.83,377.50 98.17,377.11 99.50,376.73C100.83,376.34 102.17,375.95 103.50,375.57C104.83,375.18 106.17,374.80 107.50,374.42C108.83,374.04 110.17,373.66 111.50,373.29C112.83,372.91 114.17,372.54 115.50,372.16C116.83,371.79 118.17,371.42 119.50,371.05C120.83,370.68 122.17,370.31 123.50,369.95C124.83,369.58 126.17,369.22 127.50,368.85C128.83,368.49 130.17,368.13 131.50,367.77C132.83,367.41 134.17,367.06 135.50,366.70C136.83,366.35 138.17,365.99 139.50,365.64C140.83,365.29 142.17,364.94 143.50,364.59C144.83,364.24 146.17,363.90 147.50,363.55C148.83,363.21 150.17,362.87 151.50,362.53C152.83,362.18 154.17,361.85 155.50,361.51C156.83,361.17 158.17,360.83 159.50,360.50C160.83,360.17 162.17,359.83 163.50,359.50C164.83,359.17 166.17,358.84 167.50,358.52C168.83,358.19 170.17,357.86 171.50,357.54C172.83,357.22 174.17,356.89 175.50,356.57C176.83,356.25 178.17,355.94 179.50,355.62C180.83,355.30 182.17,354.99 183.50,354.67C184.83,354.36 186.17,354.05 187.50,353.74C188.83,353.43 190.17,353.12 191.50,352.81C192.83,352.51 194.17,352.20 195.50,351.90C196.83,351.60 198.17,351.30 199.50,351.00C200.83,350.70 202.17,350.40 203.50,350.10C204.83,349.80 206.17,349.51 207.50,349.22C208.83,348.92 210.17,348.63 211.50,348.34C212.83,348.05 214.17,347.77 215.50,347.48C216.83,347.19 218.17,346.91 219.50,346.62C220.83,346.34 222.17,346.06 223.50,345.78C224.83,345.50 226.17,345.22 227.50,344.95C228.83,344.67 230.17,344.39 231.50,344.12C232.83,343.85 234.17,343.58 235.50,343.31C236.83,343.04 238.17,342.77 239.50,342.50C240.83,342.24 242.17,341.97 243.50,341.71C244.83,341.44 246.17,341.18 247.50,340.92C248.83,340.66 250.17,340.40 251.50,340.15C252.83,339.89 254.17,339.64 255.50,339.38C256.83,339.13 258.17,338.88 259.50,338.63C260.83,338.37 262.17,338.13 263.50,337.88C264.83,337.63 266.17,337.39 267.50,337.14C268.83,336.90 270.17,336.66 271.50,336.41C272.83,336.17 274.17,335.93 275.50,335.70C276.83,335.46 278.17,335.22 279.50,334.99C280.83,334.75 282.17,334.52 283.50,334.29C284.83,334.06 286.17,333.83 287.50,333.60C288.83,333.37 290.17,333.14 291.50,332.92C292.83,332.69 294.17,332.47 295.50,332.25C296.83,332.03 298.17,331.81 299.50,331.59C300.83,331.37 302.17,331.15 303.50,330.93C304.83,330.72 306.17,330.50 307.50,330.29C308.83,330.08 310.17,329.87 311.50,329.66C312.83,329.45 314.17,329.24 315.50,329.03C316.83,328.82 318.17,328.62 319.50,328.41C320.83,328.21 322.17,328.01 323.50,327.81C324.83,327.61 326.17,327.41 327.50,327.21C328.83,327.01 330.17,326.81 331.50,326.62C332.83,326.42 334.17,326.23 335.50,326.04C336.83,325.85 338.17,325.65 339.50,325.47C340.83,325.28 342.17,325.09 343.50,324.90C344.83,324.72 346.17,324.53 347.50,324.35C348.83,324.16 350.17,323.98 351.50,323.80C352.83,323.62 354.17,323.44 355.50,323.27C356.83,323.09 358.17,322.91 359.50,322.74C360.83,322.56 362.17,322.39 363.50,322.22C364.83,322.04 366.17,321.87 367.50,321.71C368.83,321.54 370.17,321.37 371.50,321.20C372.83,321.04 374.17,320.87 375.50,320.71C376.83,320.54 378.17,320.38 379.50,320.22C380.83,320.06 382.17,319.90 383.50,319.74C384.83,319.59 386.17,319.43 387.50,319.27C388.83,319.12 390.17,318.97 391.50,318.81C392.83,318.66 394.17,318.51 395.50,318.36C396.83,318.21 398.17,318.06 399.50,317.91C400.83,317.77 402.17,317.62 403.50,317.48C404.83,317.33 406.17,317.19 407.50,317.05C408.83,316.91 410.17,316.77 411.50,316.63C412.83,316.49 414.17,316.35 415.50,316.22C416.83,316.08 418.17,315.94 419.50,315.81C420.83,315.68 422.17,315.55 423.50,315.41C424.83,315.28 426.17,315.15 427.50,315.03C428.83,314.90 430.17,314.77 431.50,314.64C432.83,314.52 434.17,314.39 435.50,314.27C436.83,314.15 438.17,314.03 439.50,313.91C440.83,313.78 442.17,313.67 443.50,313.55C444.83,313.43 446.17,313.31 447.50,313.20C448.83,313.08 450.17,312.97 451.50,312.85C452.83,312.74 454.17,312.63 455.50,312.52C456.83,312.41 458.17,312.30 459.50,312.19C460.83,312.08 462.17,311.98 463.50,311.87C464.83,311.77 466.17,311.66 467.50,311.56C468.83,311.46 470.17,311.36 471.50,311.25C472.83,311.15 474.17,311.06 475.50,310.96C476.83,310.86 478.17,310.76 479.50,310.67C480.83,310.57 482.17,310.48 483.50,310.38C484.83,310.29 486.17,310.20 487.50,310.11C488.83,310.02 490.17,309.93 491.50,309.84C492.83,309.75 494.17,309.66 495.50,309.58C496.83,309.49 498.17,309.41 499.50,309.32C500.83,309.24 502.17,309.16 503.50,309.08C504.83,309.00 506.17,308.92 507.50,308.84C508.83,308.76 510.17,308.68 511.50,308.61C512.83,308.53 514.17,308.45 515.50,308.38C516.83,308.31 518.17,308.23 519.50,308.16C520.83,308.09 522.17,308.02 523.50,307.95C524.83,307.88 526.17,307.81 527.50,307.75C528.83,307.68 530.17,307.61 531.50,307.55C532.83,307.48 534.17,307.42 535.50,307.36C536.83,307.30 538.17,307.24 539.50,307.18C540.83,307.12 542.17,307.06 543.50,307.00C544.83,306.94 546.17,306.89 547.50,306.83C548.83,306.77 550.17,306.72 551.50,306.67C552.83,306.61 554.17,306.56 555.50,306.51C556.83,306.46 558.17,306.41 559.50,306.36C560.83,306.31 562.17,306.27 563.50,306.22C564.83,306.17 566.17,306.13 567.50,306.09C568.83,306.04 570.17,306.00 571.50,305.96C572.83,305.91 574.17,305.87 575.50,305.83C576.83,305.80 578.17,305.76 579.50,305.72C580.83,305.68 582.17,305.65 583.50,305.61C584.83,305.58 586.17,305.54 587.50,305.51C588.83,305.48 590.17,305.44 591.50,305.41C592.83,305.38 594.17,305.35 595.50,305.32C596.83,305.30 598.17,305.27 599.50,305.24C600.83,305.22 602.17,305.19 603.50,305.17C604.83,305.14 606.17,305.12 607.50,305.10C608.83,305.07 610.17,305.05 611.50,305.03C612.83,305.01 614.17,305.00 615.50,304.98C616.83,304.96 618.17,304.94 619.50,304.93C620.83,304.91 622.17,304.90 623.50,304.88C624.83,304.87 626.17,304.86 627.50,304.85C628.83,304.83 630.17,304.82 631.50,304.82C632.83,304.81 634.17,304.80 635.50,304.79C636.83,304.78 638.17,304.78 639.50,304.77C640.83,304.77 642.17,304.76 643.50,304.76C644.83,304.76 646.17,304.75 647.50,304.75C648.83,304.75 650.17,304.75 651.50,304.75C652.83,304.75 654.17,304.76 655.50,304.76C656.83,304.76 658.17,304.77 659.50,304.77C660.83,304.78 662.17,304.78 663.50,304.79C664.83,304.80 666.17,304.81 667.50,304.82C668.83,304.82 670.17,304.83 671.50,304.85C672.83,304.86 674.17,304.87 675.50,304.88C676.83,304.90 678.17,304.91 679.50,304.92C680.83,304.94 682.17,304.96 683.50,304.97C684.83,304.99 686.17,305.01 687.50,305.03C688.83,305.04 690.17,305.06 691.50,305.09C692.83,305.11 694.17,305.13 695.50,305.15C696.83,305.17 698.17,305.20 699.50,305.22C700.83,305.25 702.17,305.27 703.50,305.30C704.83,305.32 706.17,305.35 707.50,305.38C708.83,305.41 710.17,305.44 711.50,305.47C712.83,305.49 714.17,305.53 715.50,305.56C716.83,305.59 718.17,305.62 719.50,305.65C720.83,305.69 722.17,305.72 723.50,305.76C724.83,305.79 726.17,305.83 727.50,305.86C728.83,305.90 730.17,305.94 731.50,305.98C732.83,306.01 734.17,306.05 735.50,306.09C736.83,306.13 738.17,306.17 739.50,306.22C740.83,306.26 742.17,306.30 743.50,306.34C744.83,306.39 746.17,306.43 747.50,306.48C748.83,306.52 750.17,306.57 751.50,306.61C752.83,306.66 754.17,306.71 755.50,306.75C756.83,306.80 758.17,306.85 759.50,306.90C760.83,306.95 762.17,307.00 763.50,307.05C764.83,307.10 766.17,307.15 767.50,307.20C768.83,307.26 770.17,307.31 771.50,307.36C772.83,307.42 774.17,307.47 775.50,307.53C776.83,307.58 778.17,307.64 779.50,307.69C780.83,307.75 782.17,307.81 783.50,307.87C784.83,307.92 786.17,307.98 787.50,308.04C788.83,308.10 790.17,308.16 791.50,308.22C792.83,308.28 794.17,308.34 795.50,308.41C796.83,308.47 798.17,308.53 799.50,308.59C800.83,308.66 802.17,308.72 803.50,308.79C804.83,308.85 806.17,308.92 807.50,308.98C808.83,309.05 810.17,309.11 811.50,309.18C812.83,309.25 814.17,309.32 815.50,309.38C816.83,309.45 818.17,309.52 819.50,309.59C820.83,309.66 822.17,309.73 823.50,309.80C824.83,309.87 826.17,309.94 827.50,310.02C828.83,310.09 830.17,310.16 831.50,310.23C832.83,310.31 834.17,310.38 835.50,310.45C836.83,310.53 838.17,310.60 839.50,310.68C840.83,310.75 842.17,310.83 843.50,310.90C844.83,310.98 846.17,311.06 847.50,311.13C848.83,311.21 850.17,311.29 851.50,311.37C852.83,311.45 854.17,311.53 855.50,311.61C856.83,311.68 858.17,311.76 859.50,311.84C860.83,311.92 862.17,312.01 863.50,312.09C864.83,312.17 866.17,312.25 867.50,312.33C868.83,312.41 870.17,312.50 871.50,312.58C872.83,312.66 874.58,312.77 875.50,312.83C876.42,312.89 876.75,312.91 877.00,312.93" stroke="#000" stroke-width="2.1" fill="none" stroke-linecap="round"/>
<path d="M110.00,376.09C110.50,375.97 112.00,375.58 113.00,375.33C114.00,375.08 115.00,374.83 116.00,374.58C117.00,374.33 118.00,374.08 119.00,373.83C120.00,373.58 121.00,373.33 122.00,373.09C123.00,372.84 124.00,372.59 125.00,372.35C126.00,372.10 127.00,371.86 128.00,371.62C129.00,371.38 130.00,371.13 131.00,370.89C132.00,370.65 133.00,370.41 134.00,370.17C135.00,369.94 136.00,369.70 137.00,369.46C138.00,369.22 139.00,368.99 140.00,368.75C141.00,368.52 142.00,368.29 143.00,368.05C144.00,367.82 145.00,367.59 146.00,367.36C147.00,367.13 148.00,366.90 149.00,366.67C150.00,366.44 151.00,366.21 152.00,365.99C153.00,365.76 154.00,365.53 155.00,365.31C156.00,365.09 157.00,364.86 158.00,364.64C159.00,364.42 160.00,364.20 161.00,363.98C162.00,363.76 163.00,363.54 164.00,363.32C165.00,363.10 166.00,362.88 167.00,362.67C168.00,362.45 169.00,362.24 170.00,362.02C171.00,361.81 172.00,361.60 173.00,361.39C174.00,361.17 175.00,360.96 176.00,360.75C177.00,360.54 178.00,360.34 179.00,360.13C180.00,359.92 181.00,359.71 182.00,359.51C183.00,359.30 184.00,359.10 185.00,358.90C186.00,358.69 187.00,358.49 188.00,358.29C189.00,358.09 190.00,357.89 191.00,357.69C192.00,357.49 193.00,357.30 194.00,357.10C195.00,356.90 196.00,356.71 197.00,356.51C198.00,356.32 199.00,356.13 200.00,355.93C201.00,355.74 202.00,355.55 203.00,355.36C204.00,355.17 205.00,354.98 206.00,354.79C207.00,354.61 208.00,354.42 209.00,354.23C210.00,354.05 211.00,353.86 212.00,353.68C213.00,353.50 214.00,353.31 215.00,353.13C216.00,352.95 217.00,352.77 218.00,352.59C219.00,352.41 220.00,352.23 221.00,352.06C222.00,351.88 223.00,351.70 224.00,351.53C225.00,351.35 226.00,351.17 227.00,351.00C228.00,350.83 229.00,350.65 230.00,350.48C231.00,350.31 232.00,350.14 233.00,349.97C234.00,349.80 235.00,349.63 236.00,349.46C237.00,349.29 238.00,349.12 239.00,348.95C240.00,348.78 241.00,348.62 242.00,348.45C243.00,348.28 244.00,348.12 245.00,347.95C246.00,347.79 247.00,347.63 248.00,347.46C249.00,347.30 250.00,347.14 251.00,346.97C252.00,346.81 253.00,346.65 254.00,346.49C255.00,346.33 256.00,346.17 257.00,346.01C258.00,345.85 259.00,345.69 260.00,345.53C261.00,345.38 262.00,345.22 263.00,345.06C264.00,344.90 265.00,344.75 266.00,344.59C267.00,344.44 268.00,344.28 269.00,344.13C270.00,343.98 271.00,343.82 272.00,343.67C273.00,343.52 274.00,343.36 275.00,343.21C276.00,343.06 277.00,342.91 278.00,342.76C279.00,342.61 280.00,342.46 281.00,342.31C282.00,342.16 283.00,342.02 284.00,341.87C285.00,341.72 286.00,341.57 287.00,341.43C288.00,341.28 289.00,341.14 290.00,340.99C291.00,340.85 292.00,340.70 293.00,340.56C294.00,340.42 295.00,340.27 296.00,340.13C297.00,339.99 298.00,339.85 299.00,339.71C300.00,339.57 301.00,339.43 302.00,339.29C303.00,339.15 304.00,339.01 305.00,338.87C306.00,338.73 307.00,338.60 308.00,338.46C309.00,338.32 310.00,338.19 311.00,338.05C312.00,337.92 313.00,337.78 314.00,337.65C315.00,337.51 316.00,337.38 317.00,337.25C318.00,337.12 319.00,336.98 320.00,336.85C321.00,336.72 322.00,336.59 323.00,336.46C324.00,336.33 325.00,336.20 326.00,336.07C327.00,335.95 328.00,335.82 329.00,335.69C330.00,335.56 331.00,335.44 332.00,335.31C333.00,335.19 334.00,335.06 335.00,334.94C336.00,334.81 337.00,334.69 338.00,334.56C339.00,334.44 340.00,334.32 341.00,334.20C342.00,334.08 343.00,333.96 344.00,333.83C345.00,333.71 346.00,333.59 347.00,333.48C348.00,333.36 349.00,333.24 350.00,333.12C351.00,333.00 352.00,332.89 353.00,332.77C354.00,332.65 355.00,332.54 356.00,332.42C357.00,332.31 358.00,332.19 359.00,332.08C360.00,331.97 361.00,331.85 362.00,331.74C363.00,331.63 364.00,331.52 365.00,331.41C366.00,331.29 367.00,331.18 368.00,331.07C369.00,330.96 370.00,330.85 371.00,330.75C372.00,330.64 373.00,330.53 374.00,330.42C375.00,330.31 376.00,330.21 377.00,330.10C378.00,329.99 379.00,329.89 380.00,329.78C381.00,329.68 382.00,329.57 383.00,329.47C384.00,329.36 385.00,329.26 386.00,329.16C387.00,329.06 388.00,328.95 389.00,328.85C390.00,328.75 391.00,328.65 392.00,328.55C393.00,328.45 394.00,328.35 395.00,328.25C396.00,328.15 397.00,328.05 398.00,327.95C399.00,327.85 400.00,327.75 401.00,327.65C402.00,327.56 403.00,327.46 404.00,327.36C405.00,327.27 406.00,327.17 407.00,327.08C408.00,326.98 409.00,326.89 410.00,326.79C411.00,326.70 412.00,326.60 413.00,326.51C414.00,326.42 415.00,326.32 416.00,326.23C417.00,326.14 418.00,326.05 419.00,325.96C420.00,325.87 421.00,325.78 422.00,325.69C423.00,325.60 424.00,325.51 425.00,325.42C426.00,325.33 427.00,325.24 428.00,325.16C429.00,325.07 430.00,324.98 431.00,324.90C432.00,324.81 433.00,324.72 434.00,324.64C435.00,324.55 436.00,324.47 437.00,324.39C438.00,324.30 439.00,324.22 440.00,324.14C441.00,324.06 442.00,323.97 443.00,323.89C444.00,323.81 445.00,323.73 446.00,323.65C447.00,323.57 448.00,323.49 449.00,323.42C450.00,323.34 451.00,323.26 452.00,323.18C453.00,323.11 454.00,323.03 455.00,322.95C456.00,322.88 457.00,322.80 458.00,322.73C459.00,322.65 460.00,322.58 461.00,322.51C462.00,322.43 463.00,322.36 464.00,322.29C465.00,322.22 466.00,322.14 467.00,322.07C468.00,322.00 469.00,321.93 470.00,321.86C471.00,321.79 472.00,321.72 473.00,321.65C474.00,321.58 475.00,321.52 476.00,321.45C477.00,321.38 478.00,321.31 479.00,321.25C480.00,321.18 481.00,321.11 482.00,321.05C483.00,320.98 484.00,320.92 485.00,320.85C486.00,320.79 487.00,320.73 488.00,320.66C489.00,320.60 490.00,320.54 491.00,320.48C492.00,320.41 493.00,320.35 494.00,320.29C495.00,320.23 496.00,320.17 497.00,320.11C498.00,320.05 499.00,319.99 500.00,319.93C501.00,319.88 502.00,319.82 503.00,319.76C504.00,319.70 505.00,319.65 506.00,319.59C507.00,319.53 508.00,319.48 509.00,319.42C510.00,319.37 511.00,319.31 512.00,319.26C513.00,319.20 514.00,319.15 515.00,319.10C516.00,319.05 517.00,318.99 518.00,318.94C519.00,318.89 520.00,318.84 521.00,318.79C522.00,318.74 523.00,318.69 524.00,318.64C525.00,318.59 526.00,318.54 527.00,318.49C528.00,318.44 529.00,318.39 530.00,318.35C531.00,318.30 532.00,318.25 533.00,318.21C534.00,318.16 535.00,318.11 536.00,318.07C537.00,318.02 538.00,317.98 539.00,317.93C540.00,317.89 541.50,317.83 542.00,317.80" stroke="#9aa0a6" stroke-width="0.8" fill="none" stroke-dasharray="4 5"/>
<path d="M190.00,359.60C192.50,359.53 200.50,359.27 205.00,359.20C209.50,359.13 212.83,359.15 217.00,359.20C221.17,359.25 224.50,359.32 230.00,359.50C235.50,359.68 241.67,359.92 250.00,360.30C258.33,360.68 274.03,361.50 280.00,361.80C285.97,362.10 284.83,362.05 285.80,362.10" stroke="#000" stroke-width="2.2" fill="none" stroke-linejoin="round" stroke-linecap="round" />
<circle cx="680.3" cy="195.4" r="6" fill="#ffff00" stroke="#ff0000" stroke-width="2"/>
<circle cx="680.3" cy="305.0" r="6" fill="#ff0000"/>
<circle cx="680.3" cy="315.4" r="6" fill="#ff0000"/>
<path d="M54.90,390.20C57.51,390.18 65.33,390.16 70.55,390.08C75.77,390.00 80.99,389.87 86.20,389.71C91.42,389.55 96.64,389.35 101.86,389.10C107.07,388.86 112.29,388.57 117.51,388.25C122.73,387.92 127.94,387.55 133.16,387.15C138.38,386.74 143.60,386.29 148.81,385.80C154.03,385.31 159.25,384.79 164.47,384.22C169.68,383.65 174.90,383.03 180.12,382.38C185.34,381.73 190.55,381.04 195.77,380.31C200.99,379.57 206.20,378.80 211.42,377.99C216.64,377.17 221.86,376.32 227.07,375.42C232.29,374.53 237.51,373.59 242.73,372.61C247.94,371.63 253.16,370.62 258.38,369.56C263.60,368.50 268.81,367.40 274.03,366.26C279.25,365.12 284.47,363.94 289.68,362.72C294.90,361.50 300.12,360.23 305.34,358.93C310.55,357.63 315.77,356.29 320.99,354.90C326.21,353.52 331.42,352.09 336.64,350.63C341.86,349.16 347.07,347.65 352.29,346.11C357.51,344.56 362.73,342.97 367.94,341.34C373.16,339.72 378.38,338.05 383.60,336.34C388.81,334.63 394.03,332.88 399.25,331.08C404.47,329.29 409.68,327.46 414.90,325.59C420.12,323.71 425.34,321.80 430.55,319.85C435.77,317.89 440.99,315.90 446.21,313.86C451.42,311.83 456.64,309.75 461.86,307.63C467.08,305.52 472.29,303.36 477.51,301.16C482.73,298.96 487.94,296.72 493.16,294.44C498.38,292.16 503.60,289.84 508.81,287.48C514.03,285.12 519.25,282.72 524.47,280.27C529.68,277.83 534.90,275.35 540.12,272.82C545.34,270.30 550.55,267.73 555.77,265.13C560.99,262.52 566.21,259.88 571.42,257.19C576.64,254.50 581.86,251.77 587.08,249.01C592.29,246.24 597.51,243.43 602.73,240.58C607.95,237.73 613.16,234.84 618.38,231.91C623.60,228.97 628.81,226.00 634.03,222.99C639.25,219.98 644.47,216.92 649.68,213.83C654.90,210.73 660.12,207.60 665.34,204.42C670.55,201.25 678.38,196.38 680.99,194.77" stroke="#ff0000" stroke-width="0.8" fill="none" stroke-linejoin="round" stroke-linecap="round" />
<path d="M55,195.4H680.3M680.3,195.4V390" stroke="#333" stroke-width="1" fill="none"/>
<rect x="741.5" y="-1" width="218" height="33.5" fill="#fff" stroke="#888" stroke-width="1.2"/>
<path d="M55,0.5H959" stroke="#808080" stroke-width="1"/>
<path d="M742.5,33.4H958" stroke="#bdbdbd" stroke-width="0.9"/>
<path d="M55.3,0V397" stroke="#000" stroke-width="1.8" fill="none"/>
<path d="M959.1,0V390.5" stroke="#000" stroke-width="1.8" fill="none"/>
<path d="M48,390.5H960" stroke="#000" stroke-width="1.5" fill="none"/>
<path d="M48,390.20H55M48,368.53H55M48,346.87H55M48,325.20H55M48,303.53H55M48,281.87H55M48,260.20H55M48,238.53H55M48,216.87H55M48,195.20H55M48,173.53H55M48,151.87H55M48,130.20H55M48,108.54H55M48,86.87H55M48,65.20H55M959,390.20H966.5M959,368.53H966.5M959,346.87H966.5M959,325.20H966.5M959,303.53H966.5M959,281.87H966.5M54.90,390V398M123.32,390V398M191.75,390V398M260.18,390V398M328.60,390V398M397.02,390V398M465.45,390V398M533.88,390V398M602.30,390V398M670.73,390V398M739.15,390V398M807.58,390V398M876.00,390V398M944.42,390V398" stroke="#000" stroke-width="1.6" fill="none"/>
<path d="M55,623.9L55.00,623.90C60.83,623.50 78.67,622.28 90.00,621.50C101.33,620.72 114.25,619.85 123.00,619.20C131.75,618.55 139.25,617.87 142.50,617.60L150,617 L150,686.2 L55,686.2 Z" fill="#f0f7fe"/>
<path d="M143.50,617.25L143.50,617.25C144.33,617.22 146.67,617.17 148.50,617.05C150.33,616.93 152.50,616.72 154.50,616.55C156.50,616.38 158.50,616.21 160.50,616.04C162.50,615.87 164.50,615.70 166.50,615.53C168.50,615.35 170.50,615.18 172.50,615.01C174.50,614.83 176.50,614.66 178.50,614.49C180.50,614.31 182.50,614.14 184.50,613.96C186.50,613.78 188.50,613.61 190.50,613.43C192.50,613.25 194.50,613.08 196.50,612.90C198.50,612.72 200.50,612.54 202.50,612.36C204.50,612.18 206.50,612.00 208.50,611.82C210.50,611.64 212.50,611.46 214.50,611.28C216.50,611.10 218.50,610.92 220.50,610.74C222.50,610.56 224.50,610.38 226.50,610.20C228.50,610.01 230.50,609.83 232.50,609.65C234.50,609.47 236.50,609.28 238.50,609.10C240.50,608.92 242.50,608.73 244.50,608.55C246.50,608.37 248.50,608.18 250.50,608.00C252.50,607.82 254.50,607.63 256.50,607.45C258.50,607.27 260.50,607.08 262.50,606.90C264.50,606.72 266.50,606.53 268.50,606.35C270.50,606.16 272.50,605.98 274.50,605.80C276.50,605.61 278.50,605.43 280.50,605.25C282.50,605.06 284.50,604.88 286.50,604.70C288.50,604.51 290.50,604.33 292.50,604.15C294.50,603.96 296.50,603.78 298.50,603.60C300.50,603.42 302.50,603.23 304.50,603.05C306.50,602.87 308.50,602.69 310.50,602.51C312.50,602.33 314.50,602.15 316.50,601.97C318.50,601.79 320.50,601.61 322.50,601.43C324.50,601.25 326.50,601.07 328.50,600.89C330.50,600.71 332.50,600.53 334.50,600.35C336.50,600.18 338.50,600.00 340.50,599.82C342.50,599.65 344.50,599.47 346.50,599.30C348.50,599.12 350.50,598.94 352.50,598.77C354.50,598.60 356.50,598.42 358.50,598.25C360.50,598.08 362.50,597.91 364.50,597.73C366.50,597.56 368.50,597.39 370.50,597.22C372.50,597.05 374.50,596.88 376.50,596.72C378.50,596.55 380.50,596.38 382.50,596.21C384.50,596.05 386.50,595.88 388.50,595.72C390.50,595.55 392.50,595.39 394.50,595.23C396.50,595.06 398.50,594.90 400.50,594.74C402.50,594.58 404.50,594.42 406.50,594.26C408.50,594.10 410.50,593.95 412.50,593.79C414.50,593.63 416.50,593.48 418.50,593.32C420.50,593.17 422.50,593.02 424.50,592.86C426.50,592.71 428.50,592.56 430.50,592.41C432.50,592.26 434.92,592.08 436.50,591.97C438.08,591.85 426.08,591.76 440.00,591.71C453.92,591.67 493.33,591.70 520.00,591.70C546.67,591.70 570.00,591.68 600.00,591.70C630.00,591.72 666.67,591.77 700.00,591.80C733.33,591.83 770.50,591.87 800.00,591.90C829.50,591.93 864.17,591.98 877.00,592.00L877.7,592.00 L877.7,629.6 L877,629.6L877.00,629.69C876.50,629.79 875.50,629.99 874.00,630.29C872.50,630.59 870.00,631.09 868.00,631.49C866.00,631.88 864.00,632.27 862.00,632.66C860.00,633.05 858.00,633.44 856.00,633.82C854.00,634.21 852.00,634.59 850.00,634.97C848.00,635.35 846.00,635.73 844.00,636.10C842.00,636.48 840.00,636.85 838.00,637.22C836.00,637.59 834.00,637.95 832.00,638.32C830.00,638.68 828.00,639.05 826.00,639.41C824.00,639.77 822.00,640.12 820.00,640.48C818.00,640.83 816.00,641.19 814.00,641.54C812.00,641.89 810.00,642.23 808.00,642.58C806.00,642.92 804.00,643.27 802.00,643.61C800.00,643.95 798.00,644.29 796.00,644.62C794.00,644.96 792.00,645.29 790.00,645.62C788.00,645.95 786.00,646.28 784.00,646.61C782.00,646.93 780.00,647.26 778.00,647.58C776.00,647.90 774.00,648.22 772.00,648.53C770.00,648.85 768.00,649.17 766.00,649.48C764.00,649.79 762.00,650.10 760.00,650.41C758.00,650.71 756.00,651.02 754.00,651.32C752.00,651.63 750.00,651.93 748.00,652.22C746.00,652.52 744.00,652.82 742.00,653.11C740.00,653.41 738.00,653.70 736.00,653.99C734.00,654.28 732.00,654.56 730.00,654.85C728.00,655.13 726.00,655.42 724.00,655.70C722.00,655.98 720.00,656.25 718.00,656.53C716.00,656.81 714.00,657.08 712.00,657.35C710.00,657.62 708.00,657.89 706.00,658.16C704.00,658.43 702.00,658.69 700.00,658.95C698.00,659.22 696.00,659.48 694.00,659.73C692.00,659.99 690.00,660.25 688.00,660.50C686.00,660.76 684.00,661.01 682.00,661.26C680.00,661.51 678.00,661.76 676.00,662.00C674.00,662.25 672.00,662.49 670.00,662.73C668.00,662.97 666.00,663.21 664.00,663.45C662.00,663.69 660.00,663.92 658.00,664.15C656.00,664.39 654.00,664.62 652.00,664.85C650.00,665.07 648.00,665.30 646.00,665.53C644.00,665.75 642.00,665.97 640.00,666.19C638.00,666.41 636.00,666.63 634.00,666.85C632.00,667.06 630.00,667.28 628.00,667.49C626.00,667.70 624.00,667.91 622.00,668.12C620.00,668.33 618.00,668.54 616.00,668.74C614.00,668.95 612.00,669.15 610.00,669.35C608.00,669.55 606.00,669.75 604.00,669.94C602.00,670.14 600.00,670.33 598.00,670.53C596.00,670.72 594.00,670.91 592.00,671.10C590.00,671.29 588.00,671.47 586.00,671.66C584.00,671.84 582.00,672.02 580.00,672.21C578.00,672.39 576.00,672.56 574.00,672.74C572.00,672.92 570.00,673.09 568.00,673.27C566.00,673.44 564.00,673.61 562.00,673.78C560.00,673.95 558.00,674.12 556.00,674.28C554.00,674.45 552.00,674.61 550.00,674.78C548.00,674.94 546.00,675.10 544.00,675.26C542.00,675.41 540.00,675.57 538.00,675.73C536.00,675.88 534.00,676.03 532.00,676.18C530.00,676.33 528.00,676.48 526.00,676.63C524.00,676.78 522.00,676.92 520.00,677.07C518.00,677.21 516.00,677.35 514.00,677.49C512.00,677.63 510.00,677.77 508.00,677.91C506.00,678.05 504.00,678.18 502.00,678.31C500.00,678.45 498.00,678.58 496.00,678.71C494.00,678.84 492.00,678.97 490.00,679.09C488.00,679.22 486.00,679.34 484.00,679.47C482.00,679.59 480.00,679.71 478.00,679.83C476.00,679.95 474.00,680.07 472.00,680.18C470.00,680.30 468.00,680.41 466.00,680.53C464.00,680.64 462.00,680.75 460.00,680.86C458.00,680.97 456.00,681.08 454.00,681.18C452.00,681.29 450.00,681.39 448.00,681.50C446.00,681.60 444.00,681.70 442.00,681.80C440.00,681.90 438.00,682.00 436.00,682.09C434.00,682.19 432.00,682.28 430.00,682.38C428.00,682.47 426.00,682.56 424.00,682.65C422.00,682.74 420.00,682.83 418.00,682.92C416.00,683.00 414.00,683.09 412.00,683.17C410.00,683.26 408.00,683.34 406.00,683.42C404.00,683.50 402.00,683.58 400.00,683.66C398.00,683.74 396.00,683.81 394.00,683.89C392.00,683.96 390.00,684.03 388.00,684.10C386.00,684.18 384.00,684.25 382.00,684.31C380.00,684.38 378.00,684.45 376.00,684.52C374.00,684.58 372.00,684.65 370.00,684.71C368.00,684.77 366.00,684.83 364.00,684.89C362.00,684.95 360.00,685.01 358.00,685.07C356.00,685.12 354.00,685.18 352.00,685.23C350.00,685.29 348.00,685.34 346.00,685.39C344.00,685.44 342.00,685.49 340.00,685.54C338.00,685.59 336.00,685.64 334.00,685.68C332.00,685.73 330.00,685.77 328.00,685.81C326.00,685.86 324.00,685.90 322.00,685.94C320.00,685.98 318.00,686.02 316.00,686.05C314.00,686.09 312.00,686.13 310.00,686.16C308.00,686.20 306.00,686.23 304.00,686.26C302.00,686.30 300.00,686.33 298.00,686.36C296.00,686.38 294.00,686.41 292.00,686.44C290.00,686.47 287.00,686.50 286.00,686.52L77.00,686L77.00,684.75C77.33,684.57 78.33,684.01 79.00,683.67C79.67,683.33 80.33,683.01 81.00,682.71C81.67,682.40 82.33,682.12 83.00,681.85C83.67,681.57 84.33,681.32 85.00,681.07C85.67,680.82 86.33,680.58 87.00,680.35C87.67,680.12 88.33,679.90 89.00,679.68C89.67,679.46 90.33,679.25 91.00,679.03C91.67,678.81 92.33,678.60 93.00,678.39C93.67,678.17 94.33,677.95 95.00,677.73C95.67,677.50 96.33,677.28 97.00,677.04C97.67,676.80 98.33,676.55 99.00,676.29C99.67,676.03 100.33,675.76 101.00,675.47C101.67,675.19 102.33,674.89 103.00,674.56C103.67,674.24 104.33,673.91 105.00,673.54C105.67,673.18 106.33,672.80 107.00,672.40C107.67,671.99 108.33,671.56 109.00,671.10C109.67,670.64 110.33,670.15 111.00,669.63C111.67,669.11 112.33,668.56 113.00,667.97C113.67,667.39 114.33,666.77 115.00,666.11C115.67,665.45 116.33,664.76 117.00,664.03C117.67,663.30 118.33,662.53 119.00,661.73C119.67,660.92 120.33,660.09 121.00,659.21C121.67,658.34 122.33,657.43 123.00,656.48C123.67,655.54 124.33,654.56 125.00,653.55C125.67,652.54 126.33,651.49 127.00,650.41C127.67,649.33 128.33,648.22 129.00,647.07C129.67,645.92 130.33,644.75 131.00,643.54C131.67,642.33 132.33,641.08 133.00,639.81C133.67,638.54 134.33,637.23 135.00,635.89C135.67,634.56 136.33,633.19 137.00,631.80C137.67,630.40 138.33,628.97 139.00,627.52C139.67,626.06 140.33,624.57 141.00,623.06C141.67,621.55 142.58,619.40 143.00,618.43C143.42,617.46 143.42,617.45 143.50,617.25Z" fill="#d0dce8"/>
<path d="M123.32,521V687M191.75,521V687M260.18,521V687M328.60,521V687M397.02,521V687M465.45,521V687M533.88,521V687M602.30,521V687M670.73,521V687M739.15,521V687M807.58,521V687M876.00,521V687M944.42,521V687M55,631.85H959M55,576.30H959" stroke="#cdd1d5" stroke-width="1" fill="none"/>
<path d="M55.00,623.90C60.83,623.50 78.67,622.28 90.00,621.50C101.33,620.72 114.25,619.85 123.00,619.20C131.75,618.55 139.25,617.87 142.50,617.60" stroke="#7d8fa8" stroke-width="1.0" fill="none"/>
<path d="M55.00,623.90C60.83,623.50 78.67,622.28 90.00,621.50C101.33,620.72 114.25,619.85 123.00,619.20C131.75,618.55 139.25,617.87 142.50,617.60" stroke="#03468a" stroke-width="1.1" fill="none" stroke-dasharray="1.6 3.4"/>
<path d="M55.00,630.86C56.00,630.80 59.00,630.61 61.00,630.49C63.00,630.37 65.00,630.24 67.00,630.12C69.00,629.99 71.00,629.87 73.00,629.74C75.00,629.62 77.00,629.49 79.00,629.36C81.00,629.24 83.00,629.11 85.00,628.98C87.00,628.85 89.00,628.72 91.00,628.59C93.00,628.46 95.00,628.33 97.00,628.20C99.00,628.07 101.00,627.94 103.00,627.80C105.00,627.67 107.00,627.54 109.00,627.41C111.00,627.27 113.00,627.14 115.00,627.00C117.00,626.87 119.00,626.73 121.00,626.60C123.00,626.46 125.00,626.33 127.00,626.19C129.00,626.05 131.00,625.92 133.00,625.78C135.00,625.64 137.00,625.50 139.00,625.36C141.00,625.23 144.00,625.02 145.00,624.95" stroke="#7d8fa8" stroke-width="1.0" fill="none"/>
<path d="M55.00,630.86C56.00,630.80 59.00,630.61 61.00,630.49C63.00,630.37 65.00,630.24 67.00,630.12C69.00,629.99 71.00,629.87 73.00,629.74C75.00,629.62 77.00,629.49 79.00,629.36C81.00,629.24 83.00,629.11 85.00,628.98C87.00,628.85 89.00,628.72 91.00,628.59C93.00,628.46 95.00,628.33 97.00,628.20C99.00,628.07 101.00,627.94 103.00,627.80C105.00,627.67 107.00,627.54 109.00,627.41C111.00,627.27 113.00,627.14 115.00,627.00C117.00,626.87 119.00,626.73 121.00,626.60C123.00,626.46 125.00,626.33 127.00,626.19C129.00,626.05 131.00,625.92 133.00,625.78C135.00,625.64 137.00,625.50 139.00,625.36C141.00,625.23 144.00,625.02 145.00,624.95" stroke="#03468a" stroke-width="1.1" fill="none" stroke-dasharray="1.6 3.4"/>
<path d="M145.00,624.95C146.00,624.88 149.00,624.67 151.00,624.53C153.00,624.39 155.00,624.25 157.00,624.11C159.00,623.97 161.00,623.83 163.00,623.68C165.00,623.54 167.00,623.40 169.00,623.26C171.00,623.12 173.00,622.97 175.00,622.83C177.00,622.69 179.00,622.55 181.00,622.40C183.00,622.26 185.00,622.12 187.00,621.97C189.00,621.83 191.00,621.69 193.00,621.54C195.00,621.40 197.00,621.25 199.00,621.11C201.00,620.97 203.00,620.82 205.00,620.68C207.00,620.53 209.00,620.39 211.00,620.24C213.00,620.10 215.00,619.95 217.00,619.81C219.00,619.66 221.00,619.52 223.00,619.37C225.00,619.23 227.00,619.08 229.00,618.94C231.00,618.79 233.00,618.65 235.00,618.50C237.00,618.36 239.00,618.21 241.00,618.07C243.00,617.92 245.00,617.78 247.00,617.63C249.00,617.48 251.00,617.34 253.00,617.19C255.00,617.05 257.00,616.90 259.00,616.76C261.00,616.61 263.00,616.47 265.00,616.33C267.00,616.18 269.00,616.04 271.00,615.89C273.00,615.75 275.00,615.60 277.00,615.46C279.00,615.32 281.00,615.17 283.00,615.03C285.00,614.88 287.00,614.74 289.00,614.60C291.00,614.46 293.00,614.31 295.00,614.17C297.00,614.03 299.00,613.88 301.00,613.74C303.00,613.60 305.00,613.46 307.00,613.32C309.00,613.18 311.00,613.03 313.00,612.89C315.00,612.75 317.00,612.61 319.00,612.47C321.00,612.33 323.00,612.19 325.00,612.05C327.00,611.91 329.00,611.77 331.00,611.64C333.00,611.50 335.00,611.36 337.00,611.22C339.00,611.08 341.00,610.95 343.00,610.81C345.00,610.67 347.00,610.54 349.00,610.40C351.00,610.27 353.00,610.13 355.00,610.00C357.00,609.86 359.00,609.73 361.00,609.59C363.00,609.46 365.00,609.33 367.00,609.19C369.00,609.06 371.00,608.93 373.00,608.80C375.00,608.67 377.00,608.54 379.00,608.41C381.00,608.28 383.00,608.15 385.00,608.02C387.00,607.89 389.00,607.76 391.00,607.63C393.00,607.51 395.00,607.38 397.00,607.25C399.00,607.13 401.00,607.00 403.00,606.88C405.00,606.75 407.00,606.63 409.00,606.51C411.00,606.38 413.00,606.26 415.00,606.14C417.00,606.02 419.00,605.90 421.00,605.78C423.00,605.66 425.00,605.54 427.00,605.42C429.00,605.30 431.00,605.19 433.00,605.07C435.00,604.95 437.17,604.83 439.00,604.72C440.83,604.62 430.50,604.49 444.00,604.44C457.50,604.38 485.67,604.37 520.00,604.40C554.33,604.43 606.67,604.52 650.00,604.60C693.33,604.68 742.17,604.82 780.00,604.90C817.83,604.98 860.83,605.07 877.00,605.10" stroke="#03468a" stroke-width="1.1" fill="none" stroke-linejoin="round" stroke-linecap="round" />
<path d="M55.00,631.40C60.83,631.48 77.33,631.73 90.00,631.90C102.67,632.07 124.17,632.32 131.00,632.40" stroke="#777" stroke-width="0.9" fill="none" stroke-linejoin="round" stroke-linecap="round" />
<path d="M55.00,637.40C60.83,637.17 78.67,636.45 90.00,636.00C101.33,635.55 116.17,635.05 123.00,634.70C129.83,634.35 129.67,634.03 131.00,633.90" stroke="#7d8fa8" stroke-width="1.0" fill="none"/>
<path d="M55.00,637.40C60.83,637.17 78.67,636.45 90.00,636.00C101.33,635.55 116.17,635.05 123.00,634.70C129.83,634.35 129.67,634.03 131.00,633.90" stroke="#03468a" stroke-width="1.1" fill="none" stroke-dasharray="1.6 3.4"/>
<path d="M55.00,639.30C60.83,638.98 78.67,638.05 90.00,637.40C101.33,636.75 116.17,635.82 123.00,635.40C129.83,634.98 129.67,634.98 131.00,634.90" stroke="#7d8fa8" stroke-width="1.0" fill="none"/>
<path d="M55.00,639.30C60.83,638.98 78.67,638.05 90.00,637.40C101.33,636.75 116.17,635.82 123.00,635.40C129.83,634.98 129.67,634.98 131.00,634.90" stroke="#03468a" stroke-width="1.1" fill="none" stroke-dasharray="1.6 3.4"/>
<path d="M55.00,644.00C60.83,643.60 78.67,642.38 90.00,641.60C101.33,640.82 116.17,639.85 123.00,639.30C129.83,638.75 129.67,638.47 131.00,638.30" stroke="#7d8fa8" stroke-width="1.0" fill="none"/>
<path d="M55.00,644.00C60.83,643.60 78.67,642.38 90.00,641.60C101.33,640.82 116.17,639.85 123.00,639.30C129.83,638.75 129.67,638.47 131.00,638.30" stroke="#03468a" stroke-width="1.1" fill="none" stroke-dasharray="1.6 3.4"/>
<path d="M55.00,640.50C63.00,640.58 90.33,640.92 103.00,641.00C115.67,641.08 126.33,641.00 131.00,641.00" stroke="#333" stroke-width="1.0" fill="none" stroke-linejoin="round" stroke-linecap="round" />
<path d="M142.50,617.55C143.50,617.47 146.50,617.22 148.50,617.05C150.50,616.88 152.50,616.72 154.50,616.55C156.50,616.38 158.50,616.21 160.50,616.04C162.50,615.87 164.50,615.70 166.50,615.53C168.50,615.35 170.50,615.18 172.50,615.01C174.50,614.83 176.50,614.66 178.50,614.49C180.50,614.31 182.50,614.14 184.50,613.96C186.50,613.78 188.50,613.61 190.50,613.43C192.50,613.25 194.50,613.08 196.50,612.90C198.50,612.72 200.50,612.54 202.50,612.36C204.50,612.18 206.50,612.00 208.50,611.82C210.50,611.64 212.50,611.46 214.50,611.28C216.50,611.10 218.50,610.92 220.50,610.74C222.50,610.56 224.50,610.38 226.50,610.20C228.50,610.01 230.50,609.83 232.50,609.65C234.50,609.47 236.50,609.28 238.50,609.10C240.50,608.92 242.50,608.73 244.50,608.55C246.50,608.37 248.50,608.18 250.50,608.00C252.50,607.82 254.50,607.63 256.50,607.45C258.50,607.27 260.50,607.08 262.50,606.90C264.50,606.72 266.50,606.53 268.50,606.35C270.50,606.16 272.50,605.98 274.50,605.80C276.50,605.61 278.50,605.43 280.50,605.25C282.50,605.06 284.50,604.88 286.50,604.70C288.50,604.51 290.50,604.33 292.50,604.15C294.50,603.96 296.50,603.78 298.50,603.60C300.50,603.42 302.50,603.23 304.50,603.05C306.50,602.87 308.50,602.69 310.50,602.51C312.50,602.33 314.50,602.15 316.50,601.97C318.50,601.79 320.50,601.61 322.50,601.43C324.50,601.25 326.50,601.07 328.50,600.89C330.50,600.71 332.50,600.53 334.50,600.35C336.50,600.18 338.50,600.00 340.50,599.82C342.50,599.65 344.50,599.47 346.50,599.30C348.50,599.12 350.50,598.94 352.50,598.77C354.50,598.60 356.50,598.42 358.50,598.25C360.50,598.08 362.50,597.91 364.50,597.73C366.50,597.56 368.50,597.39 370.50,597.22C372.50,597.05 374.50,596.88 376.50,596.72C378.50,596.55 380.50,596.38 382.50,596.21C384.50,596.05 386.50,595.88 388.50,595.72C390.50,595.55 392.50,595.39 394.50,595.23C396.50,595.06 398.50,594.90 400.50,594.74C402.50,594.58 404.50,594.42 406.50,594.26C408.50,594.10 410.50,593.95 412.50,593.79C414.50,593.63 416.50,593.48 418.50,593.32C420.50,593.17 422.50,593.02 424.50,592.86C426.50,592.71 428.50,592.56 430.50,592.41C432.50,592.26 434.92,592.08 436.50,591.97C438.08,591.85 426.08,591.76 440.00,591.71C453.92,591.67 493.33,591.70 520.00,591.70C546.67,591.70 570.00,591.68 600.00,591.70C630.00,591.72 666.67,591.77 700.00,591.80C733.33,591.83 770.50,591.87 800.00,591.90C829.50,591.93 864.17,591.98 877.00,592.00" stroke="#03468a" stroke-width="2.0" fill="none" stroke-linejoin="round" stroke-linecap="round"/>
<path d="M131.00,632.24C132.00,632.25 135.00,632.29 137.00,632.31C139.00,632.34 141.00,632.36 143.00,632.39C145.00,632.41 147.00,632.43 149.00,632.45C151.00,632.47 153.00,632.49 155.00,632.51C157.00,632.52 159.00,632.54 161.00,632.56C163.00,632.57 165.00,632.59 167.00,632.60C169.00,632.62 171.00,632.63 173.00,632.64C175.00,632.65 177.00,632.66 179.00,632.67C181.00,632.68 183.00,632.69 185.00,632.70C187.00,632.71 189.00,632.71 191.00,632.72C193.00,632.73 195.00,632.73 197.00,632.74C199.00,632.74 201.00,632.74 203.00,632.75C205.00,632.75 207.00,632.75 209.00,632.75C211.00,632.75 213.00,632.75 215.00,632.75C217.00,632.75 219.00,632.75 221.00,632.75C223.00,632.75 225.00,632.74 227.00,632.74C229.00,632.74 231.00,632.73 233.00,632.73C235.00,632.72 237.00,632.72 239.00,632.71C241.00,632.71 243.00,632.70 245.00,632.69C247.00,632.68 249.00,632.68 251.00,632.67C253.00,632.66 255.00,632.65 257.00,632.64C259.00,632.63 261.00,632.62 263.00,632.61C265.00,632.60 267.00,632.59 269.00,632.58C271.00,632.57 273.00,632.55 275.00,632.54C277.00,632.53 279.00,632.51 281.00,632.50C283.00,632.49 285.00,632.47 287.00,632.46C289.00,632.45 291.00,632.43 293.00,632.42C295.00,632.40 297.00,632.39 299.00,632.37C301.00,632.36 303.00,632.34 305.00,632.32C307.00,632.31 309.00,632.29 311.00,632.27C313.00,632.26 315.00,632.24 317.00,632.22C319.00,632.21 321.00,632.19 323.00,632.17C325.00,632.15 327.00,632.14 329.00,632.12C331.00,632.10 333.00,632.08 335.00,632.07C337.00,632.05 339.00,632.03 341.00,632.01C343.00,631.99 345.00,631.97 347.00,631.96C349.00,631.94 351.00,631.92 353.00,631.90C355.00,631.88 357.00,631.86 359.00,631.84C361.00,631.83 363.00,631.81 365.00,631.79C367.00,631.77 369.00,631.75 371.00,631.73C373.00,631.72 375.00,631.70 377.00,631.68C379.00,631.66 381.00,631.64 383.00,631.63C385.00,631.61 387.00,631.59 389.00,631.57C391.00,631.56 393.00,631.54 395.00,631.52C397.00,631.50 399.00,631.49 401.00,631.47C403.00,631.45 405.00,631.44 407.00,631.42C409.00,631.41 411.00,631.39 413.00,631.37C415.00,631.36 417.00,631.34 419.00,631.33C421.00,631.31 423.00,631.30 425.00,631.28C427.00,631.27 429.00,631.26 431.00,631.24C433.00,631.23 435.00,631.22 437.00,631.20C439.00,631.19 441.00,631.18 443.00,631.17C445.00,631.16 447.00,631.15 449.00,631.13C451.00,631.12 453.00,631.11 455.00,631.10C457.00,631.09 459.00,631.09 461.00,631.08C463.00,631.07 465.00,631.06 467.00,631.05C469.00,631.05 471.00,631.04 473.00,631.03C475.00,631.03 477.00,631.02 479.00,631.02C481.00,631.01 483.00,631.01 485.00,631.00C487.00,631.00 489.00,631.00 491.00,631.00C493.00,630.99 495.00,630.99 497.00,630.99C499.00,630.99 501.00,630.99 503.00,630.99C505.00,630.99 507.00,630.99 509.00,631.00C511.00,631.00 513.00,631.00 515.00,631.01C517.00,631.01 519.00,631.02 521.00,631.02C523.00,631.03 525.00,631.04 527.00,631.04C529.00,631.05 531.00,631.06 533.00,631.07C535.00,631.08 537.00,631.09 539.00,631.10C541.00,631.11 543.00,631.13 545.00,631.14C547.00,631.15 549.00,631.17 551.00,631.18C553.00,631.20 555.00,631.22 557.00,631.24C559.00,631.25 561.00,631.27 563.00,631.29C565.00,631.31 567.00,631.33 569.00,631.36C571.00,631.38 573.00,631.40 575.00,631.43C577.00,631.45 579.00,631.48 581.00,631.50C583.00,631.53 585.17,631.56 587.00,631.59C588.83,631.62 591.17,631.65 592.00,631.67" stroke="#000" stroke-width="1.8" fill="none" stroke-linejoin="round" stroke-linecap="round" />
<path d="M132.50,638.24C133.50,638.19 136.50,638.03 138.50,637.92C140.50,637.81 142.50,637.70 144.50,637.59C146.50,637.48 148.50,637.37 150.50,637.26C152.50,637.14 154.50,637.03 156.50,636.92C158.50,636.81 160.50,636.70 162.50,636.59C164.50,636.48 166.50,636.36 168.50,636.25C170.50,636.14 172.50,636.02 174.50,635.91C176.50,635.80 178.50,635.68 180.50,635.57C182.50,635.46 184.50,635.34 186.50,635.23C188.50,635.12 190.50,635.00 192.50,634.89C194.50,634.77 196.50,634.66 198.50,634.54C200.50,634.43 202.50,634.31 204.50,634.20C206.50,634.08 208.50,633.96 210.50,633.85C212.50,633.73 214.50,633.62 216.50,633.50C218.50,633.38 220.50,633.27 222.50,633.15C224.50,633.03 226.50,632.92 228.50,632.80C230.50,632.68 232.50,632.57 234.50,632.45C236.50,632.33 238.50,632.21 240.50,632.10C242.50,631.98 244.50,631.86 246.50,631.74C248.50,631.63 250.50,631.51 252.50,631.39C254.50,631.27 256.50,631.15 258.50,631.04C260.50,630.92 262.50,630.80 264.50,630.68C266.50,630.56 268.50,630.45 270.50,630.33C272.50,630.21 274.50,630.09 276.50,629.97C278.50,629.85 280.50,629.73 282.50,629.62C284.50,629.50 286.50,629.38 288.50,629.26C290.50,629.14 292.50,629.02 294.50,628.90C296.50,628.78 298.50,628.67 300.50,628.55C302.50,628.43 304.50,628.31 306.50,628.19C308.50,628.07 310.50,627.95 312.50,627.83C314.50,627.72 316.50,627.60 318.50,627.48C320.50,627.36 322.50,627.24 324.50,627.12C326.50,627.00 328.50,626.88 330.50,626.77C332.50,626.65 334.50,626.53 336.50,626.41C338.50,626.29 340.50,626.17 342.50,626.06C344.50,625.94 346.50,625.82 348.50,625.70C350.50,625.58 352.50,625.47 354.50,625.35C356.50,625.23 358.50,625.11 360.50,625.00C362.50,624.88 364.50,624.76 366.50,624.64C368.50,624.53 370.50,624.41 372.50,624.29C374.50,624.17 376.50,624.06 378.50,623.94C380.50,623.82 382.50,623.71 384.50,623.59C386.50,623.48 388.50,623.36 390.50,623.24C392.50,623.13 394.50,623.01 396.50,622.90C398.50,622.78 400.50,622.66 402.50,622.55C404.50,622.43 406.50,622.32 408.50,622.20C410.50,622.09 412.50,621.98 414.50,621.86C416.50,621.75 418.50,621.63 420.50,621.52C422.50,621.41 424.50,621.29 426.50,621.18C428.50,621.07 430.50,620.95 432.50,620.84C434.50,620.73 436.50,620.61 438.50,620.50C440.50,620.39 442.50,620.28 444.50,620.17C446.50,620.05 448.50,619.94 450.50,619.83C452.50,619.72 454.50,619.61 456.50,619.50C458.50,619.39 460.50,619.28 462.50,619.17C464.50,619.06 466.50,618.95 468.50,618.84C470.50,618.73 472.50,618.63 474.50,618.52C476.50,618.41 478.50,618.30 480.50,618.19C482.50,618.09 484.50,617.98 486.50,617.87C488.50,617.77 490.50,617.66 492.50,617.55C494.50,617.45 496.50,617.34 498.50,617.24C500.50,617.13 502.50,617.03 504.50,616.92C506.50,616.82 508.50,616.71 510.50,616.61C512.50,616.51 514.50,616.40 516.50,616.30C518.50,616.20 520.50,616.10 522.50,616.00C524.50,615.89 526.50,615.79 528.50,615.69C530.50,615.59 532.50,615.49 534.50,615.39C536.50,615.29 538.50,615.19 540.50,615.09C542.50,615.00 544.50,614.90 546.50,614.80C548.50,614.70 550.50,614.60 552.50,614.51C554.50,614.41 556.50,614.32 558.50,614.22C560.50,614.12 562.50,614.03 564.50,613.93C566.50,613.84 568.50,613.75 570.50,613.65C572.50,613.56 574.50,613.47 576.50,613.37C578.50,613.28 580.50,613.19 582.50,613.10C584.50,613.01 586.50,612.92 588.50,612.83C590.50,612.74 592.50,612.65 594.50,612.56C596.50,612.47 598.50,612.38 600.50,612.30C602.50,612.21 604.50,612.12 606.50,612.04C608.50,611.95 610.50,611.87 612.50,611.78C614.50,611.70 616.50,611.61 618.50,611.53C620.50,611.44 622.50,611.36 624.50,611.28C626.50,611.20 628.50,611.12 630.50,611.04C632.50,610.95 634.50,610.87 636.50,610.80C638.50,610.72 640.50,610.64 642.50,610.56C644.50,610.48 646.50,610.40 648.50,610.33C650.50,610.25 652.50,610.18 654.50,610.10C656.50,610.03 658.50,609.95 660.50,609.88C662.50,609.80 664.50,609.73 666.50,609.66C668.50,609.59 670.50,609.52 672.50,609.45C674.50,609.38 676.50,609.31 678.50,609.24C680.50,609.17 682.50,609.10 684.50,609.03C686.50,608.97 688.50,608.90 690.50,608.83C692.50,608.77 694.50,608.70 696.50,608.64C698.50,608.58 700.50,608.51 702.50,608.45C704.50,608.39 706.50,608.33 708.50,608.27C710.50,608.21 712.50,608.15 714.50,608.09C716.50,608.03 718.50,607.97 720.50,607.91C722.50,607.86 724.50,607.80 726.50,607.74C728.50,607.69 730.50,607.63 732.50,607.58C734.50,607.53 736.50,607.47 738.50,607.42C740.50,607.37 742.50,607.32 744.50,607.27C746.50,607.22 748.50,607.17 750.50,607.12C752.50,607.08 754.50,607.03 756.50,606.98C758.50,606.94 760.50,606.89 762.50,606.85C764.50,606.80 766.50,606.76 768.50,606.72C770.50,606.68 772.50,606.63 774.50,606.59C776.50,606.55 778.50,606.51 780.50,606.48C782.50,606.44 784.50,606.40 786.50,606.37C788.50,606.33 790.50,606.29 792.50,606.26C794.50,606.23 796.50,606.19 798.50,606.16C800.50,606.13 802.50,606.10 804.50,606.07C806.50,606.04 808.50,606.01 810.50,605.98C812.50,605.95 814.50,605.93 816.50,605.90C818.50,605.88 820.50,605.85 822.50,605.83C824.50,605.80 826.50,605.78 828.50,605.76C830.50,605.74 832.50,605.72 834.50,605.70C836.50,605.68 838.50,605.66 840.50,605.65C842.50,605.63 844.50,605.61 846.50,605.60C848.50,605.58 850.50,605.57 852.50,605.56C854.50,605.55 856.50,605.54 858.50,605.53C860.50,605.52 862.50,605.51 864.50,605.50C866.50,605.49 868.50,605.49 870.50,605.48C872.50,605.48 875.42,605.47 876.50,605.47C877.58,605.47 876.92,605.47 877.00,605.47" stroke="#03468a" stroke-width="2.6" fill="none" stroke-linejoin="round" stroke-linecap="round" />
<path d="M132.50,633.18C133.50,633.12 136.50,632.94 138.50,632.83C140.50,632.71 142.50,632.59 144.50,632.47C146.50,632.35 148.50,632.23 150.50,632.11C152.50,631.99 154.50,631.87 156.50,631.75C158.50,631.63 160.50,631.51 162.50,631.38C164.50,631.26 166.50,631.13 168.50,631.01C170.50,630.89 172.50,630.76 174.50,630.63C176.50,630.51 178.50,630.38 180.50,630.25C182.50,630.13 184.50,630.00 186.50,629.87C188.50,629.74 190.50,629.61 192.50,629.48C194.50,629.35 196.50,629.22 198.50,629.09C200.50,628.96 202.50,628.82 204.50,628.69C206.50,628.56 208.50,628.43 210.50,628.29C212.50,628.16 214.50,628.03 216.50,627.89C218.50,627.76 220.50,627.62 222.50,627.49C224.50,627.35 226.50,627.21 228.50,627.08C230.50,626.94 232.50,626.80 234.50,626.67C236.50,626.53 238.50,626.39 240.50,626.25C242.50,626.12 244.50,625.98 246.50,625.84C248.50,625.70 250.50,625.56 252.50,625.42C254.50,625.28 256.50,625.14 258.50,625.00C260.50,624.86 262.50,624.72 264.50,624.57C266.50,624.43 268.50,624.29 270.50,624.15C272.50,624.01 274.50,623.87 276.50,623.72C278.50,623.58 280.50,623.44 282.50,623.29C284.50,623.15 286.50,623.01 288.50,622.86C290.50,622.72 292.50,622.58 294.50,622.43C296.50,622.29 298.50,622.14 300.50,622.00C302.50,621.85 304.50,621.71 306.50,621.56C308.50,621.42 310.50,621.27 312.50,621.13C314.50,620.98 316.50,620.84 318.50,620.69C320.50,620.55 322.50,620.40 324.50,620.26C326.50,620.11 328.50,619.96 330.50,619.82C332.50,619.67 334.50,619.53 336.50,619.38C338.50,619.23 340.50,619.09 342.50,618.94C344.50,618.80 346.50,618.65 348.50,618.50C350.50,618.36 352.50,618.21 354.50,618.06C356.50,617.92 358.50,617.77 360.50,617.63C362.50,617.48 364.50,617.33 366.50,617.19C368.50,617.04 370.50,616.90 372.50,616.75C374.50,616.60 376.50,616.46 378.50,616.31C380.50,616.17 382.50,616.02 384.50,615.87C386.50,615.73 388.50,615.58 390.50,615.44C392.50,615.29 394.50,615.15 396.50,615.00C398.50,614.86 400.50,614.71 402.50,614.57C404.50,614.42 406.50,614.28 408.50,614.13C410.50,613.99 412.50,613.85 414.50,613.70C416.50,613.56 418.50,613.41 420.50,613.27C422.50,613.13 424.50,612.99 426.50,612.84C428.50,612.70 430.50,612.56 432.50,612.41C434.50,612.27 436.50,612.13 438.50,611.99C440.50,611.85 442.50,611.71 444.50,611.57C446.50,611.42 448.50,611.28 450.50,611.14C452.50,611.00 454.50,610.86 456.50,610.72C458.50,610.58 460.50,610.45 462.50,610.31C464.50,610.17 466.50,610.03 468.50,609.89C470.50,609.75 472.50,609.62 474.50,609.48C476.50,609.34 478.50,609.21 480.50,609.07C482.50,608.94 484.50,608.80 486.50,608.67C488.50,608.53 490.50,608.40 492.50,608.26C494.50,608.13 496.50,607.99 498.50,607.86C500.50,607.73 502.50,607.60 504.50,607.47C506.50,607.33 508.50,607.20 510.50,607.07C512.50,606.94 514.50,606.81 516.50,606.68C518.50,606.55 520.50,606.42 522.50,606.30C524.50,606.17 526.50,606.04 528.50,605.91C530.50,605.79 532.50,605.66 534.50,605.54C536.50,605.41 538.50,605.29 540.50,605.16C542.50,605.04 544.50,604.92 546.50,604.79C548.50,604.67 550.50,604.55 552.50,604.43C554.50,604.31 556.50,604.19 558.50,604.07C560.50,603.95 562.50,603.83 564.50,603.71C566.50,603.59 568.50,603.48 570.50,603.36C572.50,603.24 574.50,603.13 576.50,603.02C578.50,602.90 580.50,602.79 582.50,602.67C584.50,602.56 586.50,602.45 588.50,602.34C590.50,602.23 592.50,602.12 594.50,602.01C596.50,601.90 598.50,601.79 600.50,601.68C602.50,601.58 604.50,601.47 606.50,601.36C608.50,601.26 610.50,601.15 612.50,601.05C614.50,600.95 616.50,600.84 618.50,600.74C620.50,600.64 622.50,600.54 624.50,600.44C626.50,600.34 628.50,600.24 630.50,600.15C632.50,600.05 634.50,599.95 636.50,599.86C638.50,599.76 640.50,599.67 642.50,599.58C644.50,599.48 646.50,599.39 648.50,599.30C650.50,599.21 652.50,599.12 654.50,599.03C656.50,598.94 658.50,598.85 660.50,598.77C662.50,598.68 664.50,598.60 666.50,598.51C668.50,598.43 670.50,598.35 672.50,598.26C674.50,598.18 676.50,598.10 678.50,598.02C680.50,597.94 682.50,597.87 684.50,597.79C686.50,597.71 688.50,597.64 690.50,597.56C692.50,597.49 694.50,597.42 696.50,597.35C698.50,597.28 700.50,597.21 702.50,597.14C704.50,597.07 706.50,597.00 708.50,596.93C710.50,596.87 712.50,596.80 714.50,596.74C716.50,596.68 718.50,596.61 720.50,596.55C722.50,596.49 724.50,596.43 726.50,596.38C728.50,596.32 730.50,596.26 732.50,596.21C734.50,596.15 736.50,596.10 738.50,596.05C740.50,596.00 742.50,595.95 744.50,595.90C746.50,595.85 748.50,595.80 750.50,595.75C752.50,595.71 754.50,595.66 756.50,595.62C758.50,595.58 760.50,595.54 762.50,595.50C764.50,595.46 766.50,595.42 768.50,595.38C770.50,595.34 772.50,595.31 774.50,595.28C776.50,595.24 778.50,595.21 780.50,595.18C782.50,595.15 784.50,595.12 786.50,595.09C788.50,595.07 790.50,595.04 792.50,595.02C794.50,594.99 796.50,594.97 798.50,594.95C800.50,594.93 802.50,594.91 804.50,594.89C806.50,594.88 808.50,594.86 810.50,594.85C812.50,594.84 814.50,594.82 816.50,594.81C818.50,594.80 820.50,594.79 822.50,594.79C824.50,594.78 826.50,594.78 828.50,594.77C830.50,594.77 832.50,594.77 834.50,594.77C836.50,594.77 838.50,594.77 840.50,594.78C842.50,594.78 844.50,594.79 846.50,594.80C848.50,594.81 850.50,594.82 852.50,594.83C854.50,594.84 856.50,594.85 858.50,594.87C860.50,594.89 862.50,594.90 864.50,594.92C866.50,594.94 868.50,594.96 870.50,594.99C872.50,595.01 875.42,595.05 876.50,595.06C877.58,595.08 876.92,595.07 877.00,595.07" stroke="#03468a" stroke-width="4.8" fill="none" stroke-linejoin="round" stroke-linecap="round" />
<path d="M132.50,640.98C133.50,640.99 136.50,641.00 138.50,641.00C140.50,641.01 142.50,641.02 144.50,641.02C146.50,641.03 148.50,641.03 150.50,641.04C152.50,641.04 154.50,641.05 156.50,641.05C158.50,641.05 160.50,641.06 162.50,641.06C164.50,641.06 166.50,641.06 168.50,641.07C170.50,641.07 172.50,641.07 174.50,641.07C176.50,641.07 178.50,641.07 180.50,641.07C182.50,641.07 184.50,641.07 186.50,641.07C188.50,641.07 190.50,641.07 192.50,641.07C194.50,641.07 196.50,641.07 198.50,641.07C200.50,641.06 202.50,641.06 204.50,641.06C206.50,641.05 208.50,641.05 210.50,641.05C212.50,641.04 214.50,641.04 216.50,641.03C218.50,641.03 220.50,641.02 222.50,641.02C224.50,641.01 226.50,641.00 228.50,641.00C230.50,640.99 232.50,640.98 234.50,640.98C236.50,640.97 238.50,640.96 240.50,640.95C242.50,640.94 244.50,640.93 246.50,640.92C248.50,640.91 250.50,640.90 252.50,640.89C254.50,640.88 256.50,640.87 258.50,640.86C260.50,640.85 262.50,640.84 264.50,640.83C266.50,640.81 268.50,640.80 270.50,640.79C272.50,640.78 274.50,640.76 276.50,640.75C278.50,640.73 280.50,640.72 282.50,640.71C284.50,640.69 286.50,640.67 288.50,640.66C290.50,640.64 292.50,640.63 294.50,640.61C296.50,640.59 298.50,640.58 300.50,640.56C302.50,640.54 304.50,640.52 306.50,640.50C308.50,640.49 310.50,640.47 312.50,640.45C314.50,640.43 316.50,640.41 318.50,640.39C320.50,640.37 322.50,640.35 324.50,640.33C326.50,640.30 328.50,640.28 330.50,640.26C332.50,640.24 334.50,640.21 336.50,640.19C338.50,640.17 340.50,640.14 342.50,640.12C344.50,640.10 346.50,640.07 348.50,640.05C350.50,640.02 352.50,640.00 354.50,639.97C356.50,639.94 358.50,639.92 360.50,639.89C362.50,639.86 364.50,639.84 366.50,639.81C368.50,639.78 370.50,639.75 372.50,639.72C374.50,639.70 376.50,639.67 378.50,639.64C380.50,639.61 382.50,639.58 384.50,639.55C386.50,639.52 388.50,639.48 390.50,639.45C392.50,639.42 394.50,639.39 396.50,639.36C398.50,639.32 400.50,639.29 402.50,639.26C404.50,639.22 406.50,639.19 408.50,639.16C410.50,639.12 412.50,639.09 414.50,639.05C416.50,639.02 418.50,638.98 420.50,638.94C422.50,638.91 424.50,638.87 426.50,638.83C428.50,638.80 430.50,638.76 432.50,638.72C434.50,638.68 436.50,638.64 438.50,638.60C440.50,638.57 442.50,638.53 444.50,638.49C446.50,638.45 448.50,638.41 450.50,638.36C452.50,638.32 454.50,638.28 456.50,638.24C458.50,638.20 460.50,638.16 462.50,638.11C464.50,638.07 466.50,638.03 468.50,637.98C470.50,637.94 472.50,637.89 474.50,637.85C476.50,637.80 478.50,637.76 480.50,637.71C482.50,637.67 484.50,637.62 486.50,637.57C488.50,637.53 490.50,637.48 492.50,637.43C494.50,637.38 496.50,637.33 498.50,637.29C500.50,637.24 502.50,637.19 504.50,637.14C506.50,637.09 508.50,637.04 510.50,636.99C512.50,636.94 514.50,636.89 516.50,636.83C518.50,636.78 520.50,636.73 522.50,636.68C524.50,636.62 526.50,636.57 528.50,636.52C530.50,636.46 532.50,636.41 534.50,636.35C536.50,636.30 538.50,636.25 540.50,636.19C542.50,636.13 544.50,636.08 546.50,636.02C548.50,635.96 550.50,635.91 552.50,635.85C554.50,635.79 556.50,635.73 558.50,635.68C560.50,635.62 562.50,635.56 564.50,635.50C566.50,635.44 568.50,635.38 570.50,635.32C572.50,635.26 574.50,635.20 576.50,635.13C578.50,635.07 580.50,635.01 582.50,634.95C584.50,634.89 586.50,634.82 588.50,634.76C590.50,634.69 592.50,634.63 594.50,634.57C596.50,634.50 598.50,634.44 600.50,634.37C602.50,634.31 604.50,634.24 606.50,634.17C608.50,634.11 610.50,634.04 612.50,633.97C614.50,633.90 616.50,633.84 618.50,633.77C620.50,633.70 622.50,633.63 624.50,633.56C626.50,633.49 628.50,633.42 630.50,633.35C632.50,633.28 634.50,633.21 636.50,633.14C638.50,633.06 640.50,632.99 642.50,632.92C644.50,632.85 646.50,632.77 648.50,632.70C650.50,632.63 652.50,632.55 654.50,632.48C656.50,632.40 658.50,632.33 660.50,632.25C662.50,632.18 664.50,632.10 666.50,632.02C668.50,631.95 670.50,631.87 672.50,631.79C674.50,631.71 676.50,631.63 678.50,631.56C680.50,631.48 682.50,631.40 684.50,631.32C686.50,631.24 688.50,631.16 690.50,631.08C692.50,631.00 694.50,630.91 696.50,630.83C698.50,630.75 700.50,630.67 702.50,630.59C704.50,630.50 706.50,630.42 708.50,630.34C710.50,630.25 712.50,630.17 714.50,630.08C716.50,630.00 718.50,629.91 720.50,629.83C722.50,629.74 724.50,629.65 726.50,629.57C728.50,629.48 730.50,629.39 732.50,629.30C734.50,629.22 736.50,629.13 738.50,629.04C740.50,628.95 742.50,628.86 744.50,628.77C746.50,628.68 748.50,628.59 750.50,628.50C752.50,628.40 754.50,628.31 756.50,628.22C758.50,628.13 760.50,628.04 762.50,627.94C764.50,627.85 766.50,627.76 768.50,627.66C770.50,627.57 772.50,627.47 774.50,627.38C776.50,627.28 778.50,627.18 780.50,627.09C782.50,626.99 784.50,626.89 786.50,626.80C788.50,626.70 790.50,626.60 792.50,626.50C794.50,626.40 796.50,626.31 798.50,626.21C800.50,626.11 802.50,626.01 804.50,625.91C806.50,625.80 808.50,625.70 810.50,625.60C812.50,625.50 814.50,625.40 816.50,625.29C818.50,625.19 820.50,625.09 822.50,624.98C824.50,624.88 826.50,624.78 828.50,624.67C830.50,624.57 832.50,624.46 834.50,624.35C836.50,624.25 838.50,624.14 840.50,624.03C842.50,623.93 844.50,623.82 846.50,623.71C848.50,623.60 850.50,623.49 852.50,623.39C854.50,623.28 856.50,623.17 858.50,623.06C860.50,622.95 862.50,622.83 864.50,622.72C866.50,622.61 868.50,622.50 870.50,622.39C872.50,622.27 875.42,622.11 876.50,622.05C877.58,621.99 876.92,622.02 877.00,622.02" stroke="#000" stroke-width="3.4" fill="none" stroke-linejoin="round" stroke-linecap="round" />
<path d="M132.50,632.98C133.50,632.92 136.50,632.74 138.50,632.63C140.50,632.51 142.50,632.39 144.50,632.27C146.50,632.15 148.50,632.03 150.50,631.91C152.50,631.79 154.50,631.67 156.50,631.55C158.50,631.43 160.50,631.31 162.50,631.18C164.50,631.06 166.50,630.93 168.50,630.81C170.50,630.69 172.50,630.56 174.50,630.43C176.50,630.31 178.50,630.18 180.50,630.05C182.50,629.93 184.50,629.80 186.50,629.67C188.50,629.54 190.50,629.41 192.50,629.28C194.50,629.15 196.50,629.02 198.50,628.89C200.50,628.76 202.50,628.62 204.50,628.49C206.50,628.36 208.50,628.23 210.50,628.09C212.50,627.96 214.50,627.83 216.50,627.69C218.50,627.56 220.50,627.42 222.50,627.29C224.50,627.15 226.50,627.01 228.50,626.88C230.50,626.74 232.50,626.60 234.50,626.47C236.50,626.33 238.50,626.19 240.50,626.05C242.50,625.92 244.50,625.78 246.50,625.64C248.50,625.50 250.50,625.36 252.50,625.22C254.50,625.08 256.50,624.94 258.50,624.80C260.50,624.66 262.50,624.52 264.50,624.37C266.50,624.23 268.50,624.09 270.50,623.95C272.50,623.81 274.50,623.67 276.50,623.52C278.50,623.38 280.50,623.24 282.50,623.09C284.50,622.95 286.50,622.81 288.50,622.66C290.50,622.52 292.50,622.38 294.50,622.23C296.50,622.09 298.50,621.94 300.50,621.80C302.50,621.65 304.50,621.51 306.50,621.36C308.50,621.22 310.50,621.07 312.50,620.93C314.50,620.78 316.50,620.64 318.50,620.49C320.50,620.35 322.50,620.20 324.50,620.06C326.50,619.91 328.50,619.76 330.50,619.62C332.50,619.47 334.50,619.33 336.50,619.18C338.50,619.03 340.50,618.89 342.50,618.74C344.50,618.60 346.50,618.45 348.50,618.30C350.50,618.16 352.50,618.01 354.50,617.86C356.50,617.72 358.50,617.57 360.50,617.43C362.50,617.28 364.50,617.13 366.50,616.99C368.50,616.84 370.50,616.70 372.50,616.55C374.50,616.40 376.50,616.26 378.50,616.11C380.50,615.97 382.50,615.82 384.50,615.67C386.50,615.53 388.50,615.38 390.50,615.24C392.50,615.09 394.50,614.95 396.50,614.80C398.50,614.66 400.50,614.51 402.50,614.37C404.50,614.22 406.50,614.08 408.50,613.93C410.50,613.79 412.50,613.65 414.50,613.50C416.50,613.36 418.50,613.21 420.50,613.07C422.50,612.93 424.50,612.79 426.50,612.64C428.50,612.50 430.50,612.36 432.50,612.21C434.50,612.07 436.50,611.93 438.50,611.79C440.50,611.65 442.50,611.51 444.50,611.37C446.50,611.22 448.50,611.08 450.50,610.94C452.50,610.80 454.50,610.66 456.50,610.52C458.50,610.38 460.50,610.25 462.50,610.11C464.50,609.97 466.50,609.83 468.50,609.69C470.50,609.55 472.50,609.42 474.50,609.28C476.50,609.14 478.50,609.01 480.50,608.87C482.50,608.74 484.50,608.60 486.50,608.47C488.50,608.33 490.50,608.20 492.50,608.06C494.50,607.93 496.50,607.79 498.50,607.66C500.50,607.53 502.50,607.40 504.50,607.27C506.50,607.13 508.50,607.00 510.50,606.87C512.50,606.74 514.50,606.61 516.50,606.48C518.50,606.35 520.50,606.22 522.50,606.10C524.50,605.97 526.50,605.84 528.50,605.71C530.50,605.59 532.50,605.46 534.50,605.34C536.50,605.21 538.50,605.09 540.50,604.96C542.50,604.84 544.50,604.72 546.50,604.59C548.50,604.47 550.50,604.35 552.50,604.23C554.50,604.11 556.50,603.99 558.50,603.87C560.50,603.75 562.50,603.63 564.50,603.51C566.50,603.39 568.50,603.28 570.50,603.16C572.50,603.04 574.50,602.93 576.50,602.82C578.50,602.70 580.50,602.59 582.50,602.47C584.50,602.36 586.50,602.25 588.50,602.14C590.50,602.03 592.50,601.92 594.50,601.81C596.50,601.70 598.50,601.59 600.50,601.48C602.50,601.38 604.50,601.27 606.50,601.16C608.50,601.06 610.50,600.95 612.50,600.85C614.50,600.75 616.50,600.64 618.50,600.54C620.50,600.44 622.50,600.34 624.50,600.24C626.50,600.14 628.50,600.04 630.50,599.95C632.50,599.85 634.50,599.75 636.50,599.66C638.50,599.56 640.50,599.47 642.50,599.38C644.50,599.28 646.50,599.19 648.50,599.10C650.50,599.01 652.50,598.92 654.50,598.83C656.50,598.74 658.50,598.65 660.50,598.57C662.50,598.48 664.50,598.40 666.50,598.31C668.50,598.23 670.50,598.15 672.50,598.06C674.50,597.98 676.50,597.90 678.50,597.82C680.50,597.74 682.50,597.67 684.50,597.59C686.50,597.51 688.50,597.44 690.50,597.36C692.50,597.29 694.50,597.22 696.50,597.15C698.50,597.08 700.50,597.01 702.50,596.94C704.50,596.87 706.50,596.80 708.50,596.73C710.50,596.67 712.50,596.60 714.50,596.54C716.50,596.48 718.50,596.41 720.50,596.35C722.50,596.29 724.50,596.23 726.50,596.18C728.50,596.12 730.50,596.06 732.50,596.01C734.50,595.95 736.50,595.90 738.50,595.85C740.50,595.80 742.50,595.75 744.50,595.70C746.50,595.65 748.50,595.60 750.50,595.55C752.50,595.51 754.50,595.46 756.50,595.42C758.50,595.38 760.50,595.34 762.50,595.30C764.50,595.26 766.50,595.22 768.50,595.18C770.50,595.14 772.50,595.11 774.50,595.08C776.50,595.04 778.50,595.01 780.50,594.98C782.50,594.95 784.50,594.92 786.50,594.89C788.50,594.87 790.50,594.84 792.50,594.82C794.50,594.79 796.50,594.77 798.50,594.75C800.50,594.73 802.50,594.71 804.50,594.69C806.50,594.68 808.50,594.66 810.50,594.65C812.50,594.64 814.50,594.62 816.50,594.61C818.50,594.60 820.50,594.59 822.50,594.59C824.50,594.58 826.50,594.58 828.50,594.57C830.50,594.57 832.50,594.57 834.50,594.57C836.50,594.57 838.50,594.57 840.50,594.58C842.50,594.58 844.50,594.59 846.50,594.60C848.50,594.61 850.50,594.62 852.50,594.63C854.50,594.64 856.50,594.65 858.50,594.67C860.50,594.69 862.50,594.70 864.50,594.72C866.50,594.74 868.50,594.76 870.50,594.79C872.50,594.81 875.42,594.85 876.50,594.86C877.58,594.88 876.92,594.87 877.00,594.87" stroke="#3a6aa0" stroke-width="0.6" fill="none" stroke-dasharray="5 7"/>
<path d="M132.50,638.84C133.50,638.79 136.50,638.63 138.50,638.52C140.50,638.41 142.50,638.30 144.50,638.19C146.50,638.08 148.50,637.97 150.50,637.86C152.50,637.74 154.50,637.63 156.50,637.52C158.50,637.41 160.50,637.30 162.50,637.19C164.50,637.08 166.50,636.96 168.50,636.85C170.50,636.74 172.50,636.62 174.50,636.51C176.50,636.40 178.50,636.28 180.50,636.17C182.50,636.06 184.50,635.94 186.50,635.83C188.50,635.72 190.50,635.60 192.50,635.49C194.50,635.37 196.50,635.26 198.50,635.14C200.50,635.03 202.50,634.91 204.50,634.80C206.50,634.68 208.50,634.56 210.50,634.45C212.50,634.33 214.50,634.22 216.50,634.10C218.50,633.98 220.50,633.87 222.50,633.75C224.50,633.63 226.50,633.52 228.50,633.40C230.50,633.28 232.50,633.17 234.50,633.05C236.50,632.93 238.50,632.81 240.50,632.70C242.50,632.58 244.50,632.46 246.50,632.34C248.50,632.23 250.50,632.11 252.50,631.99C254.50,631.87 256.50,631.75 258.50,631.64C260.50,631.52 262.50,631.40 264.50,631.28C266.50,631.16 268.50,631.05 270.50,630.93C272.50,630.81 274.50,630.69 276.50,630.57C278.50,630.45 280.50,630.33 282.50,630.22C284.50,630.10 286.50,629.98 288.50,629.86C290.50,629.74 292.50,629.62 294.50,629.50C296.50,629.38 298.50,629.27 300.50,629.15C302.50,629.03 304.50,628.91 306.50,628.79C308.50,628.67 310.50,628.55 312.50,628.43C314.50,628.32 316.50,628.20 318.50,628.08C320.50,627.96 322.50,627.84 324.50,627.72C326.50,627.60 328.50,627.48 330.50,627.37C332.50,627.25 334.50,627.13 336.50,627.01C338.50,626.89 340.50,626.77 342.50,626.66C344.50,626.54 346.50,626.42 348.50,626.30C350.50,626.18 352.50,626.07 354.50,625.95C356.50,625.83 358.50,625.71 360.50,625.60C362.50,625.48 364.50,625.36 366.50,625.24C368.50,625.13 370.50,625.01 372.50,624.89C374.50,624.77 376.50,624.66 378.50,624.54C380.50,624.42 382.50,624.31 384.50,624.19C386.50,624.08 388.50,623.96 390.50,623.84C392.50,623.73 394.50,623.61 396.50,623.50C398.50,623.38 400.50,623.26 402.50,623.15C404.50,623.03 406.50,622.92 408.50,622.80C410.50,622.69 412.50,622.58 414.50,622.46C416.50,622.35 418.50,622.23 420.50,622.12C422.50,622.01 424.50,621.89 426.50,621.78C428.50,621.67 430.50,621.55 432.50,621.44C434.50,621.33 436.50,621.21 438.50,621.10C440.50,620.99 442.50,620.88 444.50,620.77C446.50,620.65 448.50,620.54 450.50,620.43C452.50,620.32 454.50,620.21 456.50,620.10C458.50,619.99 460.50,619.88 462.50,619.77C464.50,619.66 466.50,619.55 468.50,619.44C470.50,619.33 472.50,619.23 474.50,619.12C476.50,619.01 478.50,618.90 480.50,618.79C482.50,618.69 484.50,618.58 486.50,618.47C488.50,618.37 490.50,618.26 492.50,618.15C494.50,618.05 496.50,617.94 498.50,617.84C500.50,617.73 502.50,617.63 504.50,617.52C506.50,617.42 508.50,617.31 510.50,617.21C512.50,617.11 514.50,617.00 516.50,616.90C518.50,616.80 520.50,616.70 522.50,616.60C524.50,616.49 526.50,616.39 528.50,616.29C530.50,616.19 532.50,616.09 534.50,615.99C536.50,615.89 538.50,615.79 540.50,615.69C542.50,615.60 544.50,615.50 546.50,615.40C548.50,615.30 550.50,615.20 552.50,615.11C554.50,615.01 556.50,614.92 558.50,614.82C560.50,614.72 562.50,614.63 564.50,614.53C566.50,614.44 568.50,614.35 570.50,614.25C572.50,614.16 574.50,614.07 576.50,613.97C578.50,613.88 580.50,613.79 582.50,613.70C584.50,613.61 586.50,613.52 588.50,613.43C590.50,613.34 592.50,613.25 594.50,613.16C596.50,613.07 598.50,612.98 600.50,612.90C602.50,612.81 604.50,612.72 606.50,612.64C608.50,612.55 610.50,612.47 612.50,612.38C614.50,612.30 616.50,612.21 618.50,612.13C620.50,612.04 622.50,611.96 624.50,611.88C626.50,611.80 628.50,611.72 630.50,611.64C632.50,611.55 634.50,611.47 636.50,611.40C638.50,611.32 640.50,611.24 642.50,611.16C644.50,611.08 646.50,611.00 648.50,610.93C650.50,610.85 652.50,610.78 654.50,610.70C656.50,610.63 658.50,610.55 660.50,610.48C662.50,610.40 664.50,610.33 666.50,610.26C668.50,610.19 670.50,610.12 672.50,610.05C674.50,609.98 676.50,609.91 678.50,609.84C680.50,609.77 682.50,609.70 684.50,609.63C686.50,609.57 688.50,609.50 690.50,609.43C692.50,609.37 694.50,609.30 696.50,609.24C698.50,609.18 700.50,609.11 702.50,609.05C704.50,608.99 706.50,608.93 708.50,608.87C710.50,608.81 712.50,608.75 714.50,608.69C716.50,608.63 718.50,608.57 720.50,608.51C722.50,608.46 724.50,608.40 726.50,608.34C728.50,608.29 730.50,608.23 732.50,608.18C734.50,608.13 736.50,608.07 738.50,608.02C740.50,607.97 742.50,607.92 744.50,607.87C746.50,607.82 748.50,607.77 750.50,607.72C752.50,607.68 754.50,607.63 756.50,607.58C758.50,607.54 760.50,607.49 762.50,607.45C764.50,607.40 766.50,607.36 768.50,607.32C770.50,607.28 772.50,607.23 774.50,607.19C776.50,607.15 778.50,607.11 780.50,607.08C782.50,607.04 784.50,607.00 786.50,606.97C788.50,606.93 790.50,606.89 792.50,606.86C794.50,606.83 796.50,606.79 798.50,606.76C800.50,606.73 802.50,606.70 804.50,606.67C806.50,606.64 808.50,606.61 810.50,606.58C812.50,606.55 814.50,606.53 816.50,606.50C818.50,606.48 820.50,606.45 822.50,606.43C824.50,606.40 826.50,606.38 828.50,606.36C830.50,606.34 832.50,606.32 834.50,606.30C836.50,606.28 838.50,606.26 840.50,606.25C842.50,606.23 844.50,606.21 846.50,606.20C848.50,606.18 850.50,606.17 852.50,606.16C854.50,606.15 856.50,606.14 858.50,606.13C860.50,606.12 862.50,606.11 864.50,606.10C866.50,606.09 868.50,606.09 870.50,606.08C872.50,606.08 875.42,606.07 876.50,606.07C877.58,606.07 876.92,606.07 877.00,606.07" stroke="#8fa6c2" stroke-width="0.6" fill="none" stroke-dasharray="4 7"/>
<path d="M75.00,684.20C87.50,684.17 125.83,684.10 150.00,684.00C174.17,683.90 197.33,683.72 220.00,683.60C242.67,683.48 275.00,683.35 286.00,683.30" stroke="#000" stroke-width="3.0" fill="none" stroke-linejoin="round" stroke-linecap="round" />
<path d="M55.00,686.30C70.83,686.30 111.50,686.28 150.00,686.30C188.50,686.32 263.33,686.38 286.00,686.40" stroke="#03468a" stroke-width="1.6" fill="none" stroke-linejoin="round" stroke-linecap="round" />
<circle cx="680.3" cy="597.7" r="6.2" fill="#ff0000"/>
<circle cx="680.3" cy="609.1" r="6.2" fill="#ff0000"/>
<circle cx="680.3" cy="631.8" r="6.2" fill="#ff0000"/>
<path d="M55,521H959" stroke="#000" stroke-width="1.3" fill="none"/>
<path d="M55,687.5H959" stroke="#777" stroke-width="1" fill="none"/>
<path d="M55.3,520.5V688" stroke="#000" stroke-width="1.8" fill="none"/>
<path d="M959.1,520.5V688" stroke="#000" stroke-width="1.8" fill="none"/>
<path d="M48,687.40H55M48,631.85H55M48,576.30H55M959,687.40H966.5M959,659.63H966.5M959,631.86H966.5M959,604.09H966.5M959,576.32H966.5M959,548.55H966.5" stroke="#000" stroke-width="1.6" fill="none"/>
<rect x="885.5" y="396.5" width="70.5" height="21" fill="#fdfdfd"/>
<g font-family="Liberation Sans, sans-serif" font-size="16">
<text x="29.20" y="15" letter-spacing="0.3">H</text>
<text x="22.55" y="35" letter-spacing="0.4">[m]</text>
<text x="19.80" y="395" letter-spacing="0.1">0.0</text>
<text x="19.80" y="373" letter-spacing="0.1">0.5</text>
<text x="19.80" y="352" letter-spacing="0.1">1.0</text>
<text x="19.80" y="330" letter-spacing="0.1">1.5</text>
<text x="19.80" y="308" letter-spacing="0.1">2.0</text>
<text x="19.80" y="287" letter-spacing="0.1">2.5</text>
<text x="19.80" y="265" letter-spacing="0.1">3.0</text>
<text x="19.80" y="243" letter-spacing="0.1">3.5</text>
<text x="19.80" y="222" letter-spacing="0.1">4.0</text>
<text x="19.80" y="200" letter-spacing="0.1">4.5</text>
<text x="19.80" y="178" letter-spacing="0.1">5.0</text>
<text x="19.80" y="157" letter-spacing="0.1">5.5</text>
<text x="19.80" y="135" letter-spacing="0.1">6.0</text>
<text x="19.80" y="113" letter-spacing="0.1">6.5</text>
<text x="19.80" y="92" letter-spacing="0.1">7.0</text>
<text x="19.80" y="70" letter-spacing="0.1">7.5</text>
<text x="969.10" y="15" letter-spacing="0.4">eta</text>
<text x="968.70" y="35" letter-spacing="0.5">[%]</text>
<text x="971.30" y="395" letter-spacing="0.1">0</text>
<text x="971.30" y="373" letter-spacing="0.1">20</text>
<text x="972.30" y="352" letter-spacing="0.1">40</text>
<text x="971.30" y="330" letter-spacing="0.1">60</text>
<text x="971.30" y="308" letter-spacing="0.1">80</text>
<text x="971.30" y="287" letter-spacing="0.1">100</text>
<text x="50.40" y="413" letter-spacing="0.1">0</text>
<text x="118.20" y="413" letter-spacing="0.1">5</text>
<text x="182.70" y="413" letter-spacing="0.1">10</text>
<text x="250.80" y="413" letter-spacing="0.1">15</text>
<text x="317.90" y="413" letter-spacing="0.1">20</text>
<text x="387.30" y="413" letter-spacing="0.1">25</text>
<text x="455.20" y="413" letter-spacing="0.1">30</text>
<text x="523.40" y="413" letter-spacing="0.1">35</text>
<text x="592.60" y="413" letter-spacing="0.1">40</text>
<text x="660.80" y="413" letter-spacing="0.1">45</text>
<text x="729.30" y="413" letter-spacing="0.1">50</text>
<text x="797.00" y="413" letter-spacing="0.1">55</text>
<text x="888.10" y="413" letter-spacing="0.45">Q [m³/h]</text>
<text x="747.30" y="19" letter-spacing="0.28">NKE 65-160/135, 3*400 V</text>
<text x="242.20" y="77" letter-spacing="0.1">110 %</text>
<text x="228.60" y="119" letter-spacing="0.2">101 %</text>
<text x="227.00" y="126">100 %</text>
<text x="88.60" y="363" letter-spacing="0.35">25 %</text>
<text x="57.70" y="445" letter-spacing="0.5">Q = 45.7 m³/h</text>
<text x="57.70" y="467" letter-spacing="0.35">n = 102 % / 1468 rpm</text>
<text x="57.70" y="489" letter-spacing="0.43">Liquid temperature during operation = 20 °C</text>
<text x="57.70" y="510" letter-spacing="0.3">Eta pump = 79 %</text>
<text x="442.60" y="445" letter-spacing="0.45">H = 4.5 m</text>
<text x="442.60" y="467" letter-spacing="0.38">Pumped liquid = Water</text>
<text x="442.60" y="489" letter-spacing="0.47">Density = 998.2 kg/m³</text>
<text x="442.60" y="510" letter-spacing="0.43">Eta pump+motor+freq.converter = 69.1 %</text>
<text x="21.30" y="535" letter-spacing="0.3">P</text>
<text x="14.60" y="555" letter-spacing="0.5">[W]</text>
<text x="33.80" y="692" letter-spacing="0.1">0</text>
<text x="15.80" y="637" letter-spacing="0.1">500</text>
<text x="6.80" y="581" letter-spacing="0.1">1000</text>
<text x="967.45" y="535" letter-spacing="0.6">NPSH</text>
<text x="977.65" y="555" letter-spacing="0.6">[m]</text>
<text x="970.80" y="692" letter-spacing="0.1">0</text>
<text x="970.80" y="665" letter-spacing="0.1">1</text>
<text x="970.80" y="637" letter-spacing="0.1">2</text>
<text x="970.80" y="609" letter-spacing="0.1">3</text>
<text x="971.80" y="581" letter-spacing="0.1">4</text>
<text x="750.40" y="582" fill="#164d8f" letter-spacing="0.5">P1 (motor+freq.converter)</text>
<text x="865.40" y="620" fill="#164d8f" letter-spacing="0.3">P2</text>
<text x="57.80" y="716" letter-spacing="0.45">P1 (motor+freq.converter) = 808.8 W</text>
<text x="57.80" y="738" letter-spacing="0.35">P2 = 708.2 W</text>
<text x="57.80" y="759" letter-spacing="0.33">NPSH = 2.01 m</text>
</g>
</svg>
</body></html>
